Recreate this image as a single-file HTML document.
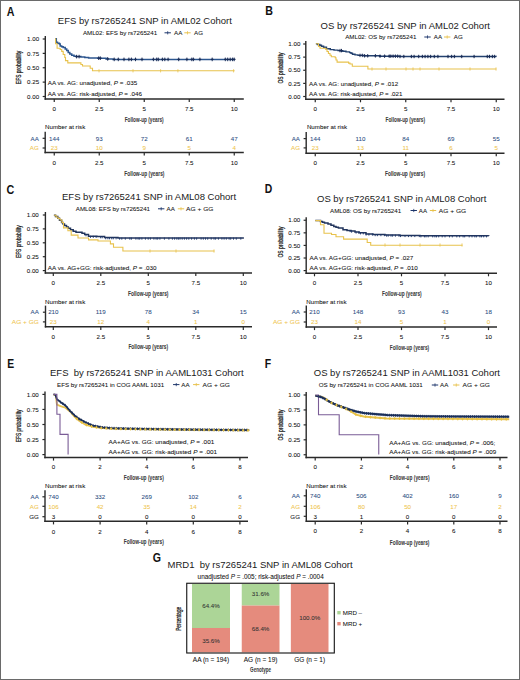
<!DOCTYPE html>
<html><head><meta charset="utf-8"><title>Figure</title>
<style>
html,body{margin:0;padding:0;background:#fff;}
body{width:520px;height:680px;overflow:hidden;}
.wrap{position:relative;width:518px;height:678px;border:1px solid #6a6a6a;}
svg{position:absolute;left:-1px;top:-1px;}
svg text{font-family:'Liberation Sans', sans-serif;}
</style></head><body><div class="wrap">
<svg width="520" height="680" viewBox="0 0 520 680" font-family="Liberation Sans, sans-serif" fill="#111111">
<text x="6.80" y="15.60" font-size="12.2" fill="#111" font-weight="bold" textLength="7.7" lengthAdjust="spacingAndGlyphs">A</text>
<text x="57.80" y="23.60" font-size="9.5" fill="#1a1a1a">EFS by rs7265241 SNP in AML02 Cohort</text>
<text x="82.90" y="35.03" font-size="6.2" stroke="#111111" stroke-width="0.06">AML02: EFS by rs7265241</text>
<line x1="164.50" y1="32.80" x2="170.90" y2="32.80" stroke="#1c356b" stroke-width="1.0"/>
<line x1="167.70" y1="31.20" x2="167.70" y2="34.40" stroke="#1c356b" stroke-width="0.8"/>
<text x="174.00" y="35.03" font-size="6.2" stroke="#111111" stroke-width="0.06">AA</text>
<line x1="184.30" y1="32.80" x2="190.70" y2="32.80" stroke="#e8c24c" stroke-width="1.0"/>
<line x1="187.50" y1="31.20" x2="187.50" y2="34.40" stroke="#e8c24c" stroke-width="0.8"/>
<text x="194.00" y="35.03" font-size="6.2" stroke="#111111" stroke-width="0.06">AG</text>
<text transform="translate(20.96,67.40) rotate(-90)" font-size="6.6" text-anchor="middle" textLength="33.5" lengthAdjust="spacingAndGlyphs" fill="#222" stroke="#222" stroke-width="0.28">EFS probability</text>
<line x1="45.30" y1="36.00" x2="45.30" y2="99.70" stroke="#2a2a2a" stroke-width="1.4"/>
<line x1="44.60" y1="99.00" x2="243.80" y2="99.00" stroke="#2a2a2a" stroke-width="1.4"/>
<line x1="42.70" y1="39.00" x2="45.30" y2="39.00" stroke="#2a2a2a" stroke-width="1.2"/>
<text x="39.10" y="41.23" font-size="6.2" text-anchor="end" stroke="#111111" stroke-width="0.06">1.00</text>
<line x1="42.70" y1="53.38" x2="45.30" y2="53.38" stroke="#2a2a2a" stroke-width="1.2"/>
<text x="39.10" y="55.61" font-size="6.2" text-anchor="end" stroke="#111111" stroke-width="0.06">0.75</text>
<line x1="42.70" y1="67.75" x2="45.30" y2="67.75" stroke="#2a2a2a" stroke-width="1.2"/>
<text x="39.10" y="69.98" font-size="6.2" text-anchor="end" stroke="#111111" stroke-width="0.06">0.50</text>
<line x1="42.70" y1="82.12" x2="45.30" y2="82.12" stroke="#2a2a2a" stroke-width="1.2"/>
<text x="39.10" y="84.36" font-size="6.2" text-anchor="end" stroke="#111111" stroke-width="0.06">0.25</text>
<line x1="42.70" y1="96.50" x2="45.30" y2="96.50" stroke="#2a2a2a" stroke-width="1.2"/>
<text x="39.10" y="98.73" font-size="6.2" text-anchor="end" stroke="#111111" stroke-width="0.06">0.00</text>
<line x1="54.25" y1="99.00" x2="54.25" y2="102.10" stroke="#2a2a2a" stroke-width="1.2"/>
<text x="54.25" y="111.23" font-size="6.2" text-anchor="middle" stroke="#111111" stroke-width="0.06">0</text>
<line x1="99.25" y1="99.00" x2="99.25" y2="102.10" stroke="#2a2a2a" stroke-width="1.2"/>
<text x="99.25" y="111.23" font-size="6.2" text-anchor="middle" stroke="#111111" stroke-width="0.06">2.5</text>
<line x1="144.25" y1="99.00" x2="144.25" y2="102.10" stroke="#2a2a2a" stroke-width="1.2"/>
<text x="144.25" y="111.23" font-size="6.2" text-anchor="middle" stroke="#111111" stroke-width="0.06">5</text>
<line x1="189.25" y1="99.00" x2="189.25" y2="102.10" stroke="#2a2a2a" stroke-width="1.2"/>
<text x="189.25" y="111.23" font-size="6.2" text-anchor="middle" stroke="#111111" stroke-width="0.06">7.5</text>
<line x1="234.25" y1="99.00" x2="234.25" y2="102.10" stroke="#2a2a2a" stroke-width="1.2"/>
<text x="234.25" y="111.23" font-size="6.2" text-anchor="middle" stroke="#111111" stroke-width="0.06">10</text>
<text x="124.75" y="122.02" font-size="7.0" fill="#3a3a3a" stroke="#3a3a3a" stroke-width="0.06" font-weight="bold" textLength="38.9" lengthAdjust="spacingAndGlyphs">Follow-up (years)</text>
<path d="M55.20 38.80H56.30V42.20H57.50V43.30H59.40V43.90H60.20V46.00H61.70V46.80H63.20V47.50H65.20V49.10H66.70V50.60H68.20V52.60H69.80V54.00H71.70V55.20H74.00V56.20H76.30V56.60H80.90V56.90H84.80V57.50H88.60V58.00H98.00V58.20H106.00V58.90H113.00V59.40H234.60V59.40" fill="none" stroke="#2c568f" stroke-width="1.5"/>
<path d="M55.20 38.80H55.60V43.70H57.10V48.30H60.20V49.50H61.70V51.40H63.20V54.50H64.80V57.50H65.50V60.60H67.80V62.90H80.90V64.50H82.50V66.00H90.20V68.30H92.50V70.80H234.60V70.80" fill="none" stroke="#e8c24c" stroke-width="1.1"/>
<line x1="76.60" y1="54.80" x2="76.60" y2="58.40" stroke="#1a2d58" stroke-width="1.0"/>
<line x1="75.30" y1="56.60" x2="77.90" y2="56.60" stroke="#1a2d58" stroke-width="1.2"/>
<line x1="79.10" y1="54.80" x2="79.10" y2="58.40" stroke="#1a2d58" stroke-width="1.0"/>
<line x1="77.80" y1="56.60" x2="80.40" y2="56.60" stroke="#1a2d58" stroke-width="1.2"/>
<line x1="98.70" y1="56.40" x2="98.70" y2="60.00" stroke="#1a2d58" stroke-width="1.0"/>
<line x1="97.40" y1="58.20" x2="100.00" y2="58.20" stroke="#1a2d58" stroke-width="1.2"/>
<line x1="100.30" y1="56.40" x2="100.30" y2="60.00" stroke="#1a2d58" stroke-width="1.0"/>
<line x1="99.00" y1="58.20" x2="101.60" y2="58.20" stroke="#1a2d58" stroke-width="1.2"/>
<line x1="107.70" y1="57.10" x2="107.70" y2="60.70" stroke="#1a2d58" stroke-width="1.0"/>
<line x1="106.40" y1="58.90" x2="109.00" y2="58.90" stroke="#1a2d58" stroke-width="1.2"/>
<line x1="114.20" y1="57.60" x2="114.20" y2="61.20" stroke="#1a2d58" stroke-width="1.0"/>
<line x1="112.90" y1="59.40" x2="115.50" y2="59.40" stroke="#1a2d58" stroke-width="1.2"/>
<line x1="118.30" y1="57.60" x2="118.30" y2="61.20" stroke="#1a2d58" stroke-width="1.0"/>
<line x1="117.00" y1="59.40" x2="119.60" y2="59.40" stroke="#1a2d58" stroke-width="1.2"/>
<line x1="124.00" y1="57.60" x2="124.00" y2="61.20" stroke="#1a2d58" stroke-width="1.0"/>
<line x1="122.70" y1="59.40" x2="125.30" y2="59.40" stroke="#1a2d58" stroke-width="1.2"/>
<line x1="128.90" y1="57.60" x2="128.90" y2="61.20" stroke="#1a2d58" stroke-width="1.0"/>
<line x1="127.60" y1="59.40" x2="130.20" y2="59.40" stroke="#1a2d58" stroke-width="1.2"/>
<line x1="131.40" y1="57.60" x2="131.40" y2="61.20" stroke="#1a2d58" stroke-width="1.0"/>
<line x1="130.10" y1="59.40" x2="132.70" y2="59.40" stroke="#1a2d58" stroke-width="1.2"/>
<line x1="135.50" y1="57.60" x2="135.50" y2="61.20" stroke="#1a2d58" stroke-width="1.0"/>
<line x1="134.20" y1="59.40" x2="136.80" y2="59.40" stroke="#1a2d58" stroke-width="1.2"/>
<line x1="142.00" y1="57.60" x2="142.00" y2="61.20" stroke="#1a2d58" stroke-width="1.0"/>
<line x1="140.70" y1="59.40" x2="143.30" y2="59.40" stroke="#1a2d58" stroke-width="1.2"/>
<line x1="153.40" y1="57.60" x2="153.40" y2="61.20" stroke="#1a2d58" stroke-width="1.0"/>
<line x1="152.10" y1="59.40" x2="154.70" y2="59.40" stroke="#1a2d58" stroke-width="1.2"/>
<line x1="156.70" y1="57.60" x2="156.70" y2="61.20" stroke="#1a2d58" stroke-width="1.0"/>
<line x1="155.40" y1="59.40" x2="158.00" y2="59.40" stroke="#1a2d58" stroke-width="1.2"/>
<line x1="158.30" y1="57.60" x2="158.30" y2="61.20" stroke="#1a2d58" stroke-width="1.0"/>
<line x1="157.00" y1="59.40" x2="159.60" y2="59.40" stroke="#1a2d58" stroke-width="1.2"/>
<line x1="162.40" y1="57.60" x2="162.40" y2="61.20" stroke="#1a2d58" stroke-width="1.0"/>
<line x1="161.10" y1="59.40" x2="163.70" y2="59.40" stroke="#1a2d58" stroke-width="1.2"/>
<line x1="164.80" y1="57.60" x2="164.80" y2="61.20" stroke="#1a2d58" stroke-width="1.0"/>
<line x1="163.50" y1="59.40" x2="166.10" y2="59.40" stroke="#1a2d58" stroke-width="1.2"/>
<line x1="168.10" y1="57.60" x2="168.10" y2="61.20" stroke="#1a2d58" stroke-width="1.0"/>
<line x1="166.80" y1="59.40" x2="169.40" y2="59.40" stroke="#1a2d58" stroke-width="1.2"/>
<line x1="178.70" y1="57.60" x2="178.70" y2="61.20" stroke="#1a2d58" stroke-width="1.0"/>
<line x1="177.40" y1="59.40" x2="180.00" y2="59.40" stroke="#1a2d58" stroke-width="1.2"/>
<line x1="186.90" y1="57.60" x2="186.90" y2="61.20" stroke="#1a2d58" stroke-width="1.0"/>
<line x1="185.60" y1="59.40" x2="188.20" y2="59.40" stroke="#1a2d58" stroke-width="1.2"/>
<line x1="191.80" y1="57.60" x2="191.80" y2="61.20" stroke="#1a2d58" stroke-width="1.0"/>
<line x1="190.50" y1="59.40" x2="193.10" y2="59.40" stroke="#1a2d58" stroke-width="1.2"/>
<line x1="193.40" y1="57.60" x2="193.40" y2="61.20" stroke="#1a2d58" stroke-width="1.0"/>
<line x1="192.10" y1="59.40" x2="194.70" y2="59.40" stroke="#1a2d58" stroke-width="1.2"/>
<line x1="199.90" y1="57.60" x2="199.90" y2="61.20" stroke="#1a2d58" stroke-width="1.0"/>
<line x1="198.60" y1="59.40" x2="201.20" y2="59.40" stroke="#1a2d58" stroke-width="1.2"/>
<line x1="212.20" y1="57.60" x2="212.20" y2="61.20" stroke="#1a2d58" stroke-width="1.0"/>
<line x1="210.90" y1="59.40" x2="213.50" y2="59.40" stroke="#1a2d58" stroke-width="1.2"/>
<line x1="225.30" y1="57.60" x2="225.30" y2="61.20" stroke="#1a2d58" stroke-width="1.0"/>
<line x1="224.00" y1="59.40" x2="226.60" y2="59.40" stroke="#1a2d58" stroke-width="1.2"/>
<line x1="227.70" y1="57.60" x2="227.70" y2="61.20" stroke="#1a2d58" stroke-width="1.0"/>
<line x1="226.40" y1="59.40" x2="229.00" y2="59.40" stroke="#1a2d58" stroke-width="1.2"/>
<line x1="230.20" y1="57.60" x2="230.20" y2="61.20" stroke="#1a2d58" stroke-width="1.0"/>
<line x1="228.90" y1="59.40" x2="231.50" y2="59.40" stroke="#1a2d58" stroke-width="1.2"/>
<line x1="232.60" y1="57.60" x2="232.60" y2="61.20" stroke="#1a2d58" stroke-width="1.0"/>
<line x1="231.30" y1="59.40" x2="233.90" y2="59.40" stroke="#1a2d58" stroke-width="1.2"/>
<line x1="234.20" y1="57.60" x2="234.20" y2="61.20" stroke="#1a2d58" stroke-width="1.0"/>
<line x1="232.90" y1="59.40" x2="235.50" y2="59.40" stroke="#1a2d58" stroke-width="1.2"/>
<line x1="99.00" y1="69.20" x2="99.00" y2="72.40" stroke="#e8c24c" stroke-width="0.8"/>
<line x1="133.00" y1="69.20" x2="133.00" y2="72.40" stroke="#e8c24c" stroke-width="0.8"/>
<line x1="160.60" y1="69.20" x2="160.60" y2="72.40" stroke="#e8c24c" stroke-width="0.8"/>
<line x1="177.90" y1="69.20" x2="177.90" y2="72.40" stroke="#e8c24c" stroke-width="0.8"/>
<line x1="233.60" y1="69.20" x2="233.60" y2="72.40" stroke="#e8c24c" stroke-width="0.8"/>
<text x="47.70" y="84.83" font-size="6.2" stroke="#111111" stroke-width="0.06" textLength="89.60" lengthAdjust="spacingAndGlyphs">AA vs. AG: unadjusted, <tspan font-style="italic">P</tspan> = .035</text>
<text x="47.70" y="96.03" font-size="6.2" stroke="#111111" stroke-width="0.06" textLength="94.25" lengthAdjust="spacingAndGlyphs">AA vs. AG: risk-adjusted, <tspan font-style="italic">P</tspan> = .046</text>
<text x="45.00" y="129.23" font-size="6.2" stroke="#111111" stroke-width="0.06">Number at risk</text>
<line x1="45.20" y1="131.80" x2="45.20" y2="153.20" stroke="#2a2a2a" stroke-width="1.4"/>
<line x1="44.50" y1="152.50" x2="243.80" y2="152.50" stroke="#2a2a2a" stroke-width="1.4"/>
<line x1="42.60" y1="138.30" x2="45.20" y2="138.30" stroke="#2a2a2a" stroke-width="1.2"/>
<text x="38.80" y="140.53" font-size="6.2" text-anchor="end" fill="#2b4d82" stroke="#2b4d82" stroke-width="0.06">AA</text>
<text x="54.25" y="140.53" font-size="6.2" text-anchor="middle" fill="#2b4d82" stroke="#2b4d82" stroke-width="0.06">144</text>
<text x="99.25" y="140.53" font-size="6.2" text-anchor="middle" fill="#2b4d82" stroke="#2b4d82" stroke-width="0.06">93</text>
<text x="144.25" y="140.53" font-size="6.2" text-anchor="middle" fill="#2b4d82" stroke="#2b4d82" stroke-width="0.06">72</text>
<text x="189.25" y="140.53" font-size="6.2" text-anchor="middle" fill="#2b4d82" stroke="#2b4d82" stroke-width="0.06">61</text>
<text x="234.25" y="140.53" font-size="6.2" text-anchor="middle" fill="#2b4d82" stroke="#2b4d82" stroke-width="0.06">47</text>
<line x1="42.60" y1="148.00" x2="45.20" y2="148.00" stroke="#2a2a2a" stroke-width="1.2"/>
<text x="38.80" y="150.23" font-size="6.2" text-anchor="end" fill="#efc54e" stroke="#efc54e" stroke-width="0.06">AG</text>
<text x="54.25" y="150.23" font-size="6.2" text-anchor="middle" fill="#efc54e" stroke="#efc54e" stroke-width="0.06">23</text>
<text x="99.25" y="150.23" font-size="6.2" text-anchor="middle" fill="#efc54e" stroke="#efc54e" stroke-width="0.06">10</text>
<text x="144.25" y="150.23" font-size="6.2" text-anchor="middle" fill="#efc54e" stroke="#efc54e" stroke-width="0.06">9</text>
<text x="189.25" y="150.23" font-size="6.2" text-anchor="middle" fill="#efc54e" stroke="#efc54e" stroke-width="0.06">5</text>
<text x="234.25" y="150.23" font-size="6.2" text-anchor="middle" fill="#efc54e" stroke="#efc54e" stroke-width="0.06">4</text>
<line x1="54.25" y1="152.50" x2="54.25" y2="155.60" stroke="#2a2a2a" stroke-width="1.2"/>
<text x="54.25" y="164.83" font-size="6.2" text-anchor="middle" stroke="#111111" stroke-width="0.06">0</text>
<line x1="99.25" y1="152.50" x2="99.25" y2="155.60" stroke="#2a2a2a" stroke-width="1.2"/>
<text x="99.25" y="164.83" font-size="6.2" text-anchor="middle" stroke="#111111" stroke-width="0.06">2.5</text>
<line x1="144.25" y1="152.50" x2="144.25" y2="155.60" stroke="#2a2a2a" stroke-width="1.2"/>
<text x="144.25" y="164.83" font-size="6.2" text-anchor="middle" stroke="#111111" stroke-width="0.06">5</text>
<line x1="189.25" y1="152.50" x2="189.25" y2="155.60" stroke="#2a2a2a" stroke-width="1.2"/>
<text x="189.25" y="164.83" font-size="6.2" text-anchor="middle" stroke="#111111" stroke-width="0.06">7.5</text>
<line x1="234.25" y1="152.50" x2="234.25" y2="155.60" stroke="#2a2a2a" stroke-width="1.2"/>
<text x="234.25" y="164.83" font-size="6.2" text-anchor="middle" stroke="#111111" stroke-width="0.06">10</text>
<text x="124.25" y="176.32" font-size="7.0" fill="#3a3a3a" stroke="#3a3a3a" stroke-width="0.06" font-weight="bold" textLength="40.2" lengthAdjust="spacingAndGlyphs">Follow-up (years)</text>
<text x="265.20" y="15.00" font-size="12.2" fill="#111" font-weight="bold" textLength="7.7" lengthAdjust="spacingAndGlyphs">B</text>
<text x="320.60" y="28.50" font-size="9.5" fill="#1a1a1a">OS by rs7265241 SNP in AML02 Cohort</text>
<text x="345.20" y="39.23" font-size="6.2" stroke="#111111" stroke-width="0.06">AML02: OS by rs7265241</text>
<line x1="424.30" y1="37.00" x2="430.70" y2="37.00" stroke="#1c356b" stroke-width="1.0"/>
<line x1="427.50" y1="35.40" x2="427.50" y2="38.60" stroke="#1c356b" stroke-width="0.8"/>
<text x="433.75" y="39.23" font-size="6.2" stroke="#111111" stroke-width="0.06">AA</text>
<line x1="444.00" y1="37.00" x2="450.40" y2="37.00" stroke="#e8c24c" stroke-width="1.0"/>
<line x1="447.20" y1="35.40" x2="447.20" y2="38.60" stroke="#e8c24c" stroke-width="0.8"/>
<text x="453.75" y="39.23" font-size="6.2" stroke="#111111" stroke-width="0.06">AG</text>
<text transform="translate(282.76,68.00) rotate(-90)" font-size="6.6" text-anchor="middle" textLength="31.0" lengthAdjust="spacingAndGlyphs" fill="#222" stroke="#222" stroke-width="0.28">OS probability</text>
<line x1="305.80" y1="41.00" x2="305.80" y2="99.90" stroke="#2a2a2a" stroke-width="1.4"/>
<line x1="305.10" y1="99.20" x2="504.50" y2="99.20" stroke="#2a2a2a" stroke-width="1.4"/>
<line x1="303.20" y1="44.00" x2="305.80" y2="44.00" stroke="#2a2a2a" stroke-width="1.2"/>
<text x="300.40" y="46.23" font-size="6.2" text-anchor="end" stroke="#111111" stroke-width="0.06">1.00</text>
<line x1="303.20" y1="57.12" x2="305.80" y2="57.12" stroke="#2a2a2a" stroke-width="1.2"/>
<text x="300.40" y="59.36" font-size="6.2" text-anchor="end" stroke="#111111" stroke-width="0.06">0.75</text>
<line x1="303.20" y1="70.25" x2="305.80" y2="70.25" stroke="#2a2a2a" stroke-width="1.2"/>
<text x="300.40" y="72.48" font-size="6.2" text-anchor="end" stroke="#111111" stroke-width="0.06">0.50</text>
<line x1="303.20" y1="83.38" x2="305.80" y2="83.38" stroke="#2a2a2a" stroke-width="1.2"/>
<text x="300.40" y="85.61" font-size="6.2" text-anchor="end" stroke="#111111" stroke-width="0.06">0.25</text>
<line x1="303.20" y1="96.50" x2="305.80" y2="96.50" stroke="#2a2a2a" stroke-width="1.2"/>
<text x="300.40" y="98.73" font-size="6.2" text-anchor="end" stroke="#111111" stroke-width="0.06">0.00</text>
<line x1="315.25" y1="99.20" x2="315.25" y2="102.30" stroke="#2a2a2a" stroke-width="1.2"/>
<text x="315.25" y="110.93" font-size="6.2" text-anchor="middle" stroke="#111111" stroke-width="0.06">0</text>
<line x1="360.50" y1="99.20" x2="360.50" y2="102.30" stroke="#2a2a2a" stroke-width="1.2"/>
<text x="360.50" y="110.93" font-size="6.2" text-anchor="middle" stroke="#111111" stroke-width="0.06">2.5</text>
<line x1="405.75" y1="99.20" x2="405.75" y2="102.30" stroke="#2a2a2a" stroke-width="1.2"/>
<text x="405.75" y="110.93" font-size="6.2" text-anchor="middle" stroke="#111111" stroke-width="0.06">5</text>
<line x1="451.00" y1="99.20" x2="451.00" y2="102.30" stroke="#2a2a2a" stroke-width="1.2"/>
<text x="451.00" y="110.93" font-size="6.2" text-anchor="middle" stroke="#111111" stroke-width="0.06">7.5</text>
<line x1="496.25" y1="99.20" x2="496.25" y2="102.30" stroke="#2a2a2a" stroke-width="1.2"/>
<text x="496.25" y="110.93" font-size="6.2" text-anchor="middle" stroke="#111111" stroke-width="0.06">10</text>
<text x="385.50" y="122.02" font-size="7.0" fill="#3a3a3a" stroke="#3a3a3a" stroke-width="0.06" font-weight="bold" textLength="39.5" lengthAdjust="spacingAndGlyphs">Follow-up (years)</text>
<path d="M315.90 43.80H317.50V44.50H319.80V45.30H321.50V46.20H323.60V47.20H326.50V48.70H330.30V49.60H334.00V50.10H338.00V50.60H342.80V51.30H346.00V51.90H349.60V52.60H351.00V53.30H352.50V54.30H355.00V54.90H358.00V55.40H364.00V55.80H380.00V56.20H400.00V56.50H496.30V56.60" fill="none" stroke="#23416f" stroke-width="1.4"/>
<path d="M315.90 43.80H318.50V46.50H320.00V48.20H325.50V49.10H327.00V51.50H328.40V53.50H330.00V55.30H331.30V56.80H335.20V57.80H336.00V60.00H337.10V62.10H348.60V63.10H350.00V64.00H352.30V66.30H367.90V69.00H496.30V69.00" fill="none" stroke="#e8c24c" stroke-width="1.1"/>
<line x1="340.00" y1="48.90" x2="340.00" y2="52.30" stroke="#1a2d58" stroke-width="1.0"/>
<line x1="338.80" y1="50.60" x2="341.20" y2="50.60" stroke="#1a2d58" stroke-width="1.2"/>
<line x1="341.50" y1="48.90" x2="341.50" y2="52.30" stroke="#1a2d58" stroke-width="1.0"/>
<line x1="340.30" y1="50.60" x2="342.70" y2="50.60" stroke="#1a2d58" stroke-width="1.2"/>
<line x1="360.00" y1="53.70" x2="360.00" y2="57.10" stroke="#1a2d58" stroke-width="1.0"/>
<line x1="358.80" y1="55.40" x2="361.20" y2="55.40" stroke="#1a2d58" stroke-width="1.2"/>
<line x1="362.30" y1="53.70" x2="362.30" y2="57.10" stroke="#1a2d58" stroke-width="1.0"/>
<line x1="361.10" y1="55.40" x2="363.50" y2="55.40" stroke="#1a2d58" stroke-width="1.2"/>
<line x1="364.60" y1="54.10" x2="364.60" y2="57.50" stroke="#1a2d58" stroke-width="1.0"/>
<line x1="363.40" y1="55.80" x2="365.80" y2="55.80" stroke="#1a2d58" stroke-width="1.2"/>
<line x1="367.70" y1="54.10" x2="367.70" y2="57.50" stroke="#1a2d58" stroke-width="1.0"/>
<line x1="366.50" y1="55.80" x2="368.90" y2="55.80" stroke="#1a2d58" stroke-width="1.2"/>
<line x1="375.40" y1="54.10" x2="375.40" y2="57.50" stroke="#1a2d58" stroke-width="1.0"/>
<line x1="374.20" y1="55.80" x2="376.60" y2="55.80" stroke="#1a2d58" stroke-width="1.2"/>
<line x1="380.00" y1="54.50" x2="380.00" y2="57.90" stroke="#1a2d58" stroke-width="1.0"/>
<line x1="378.80" y1="56.20" x2="381.20" y2="56.20" stroke="#1a2d58" stroke-width="1.2"/>
<line x1="384.60" y1="54.50" x2="384.60" y2="57.90" stroke="#1a2d58" stroke-width="1.0"/>
<line x1="383.40" y1="56.20" x2="385.80" y2="56.20" stroke="#1a2d58" stroke-width="1.2"/>
<line x1="389.20" y1="54.50" x2="389.20" y2="57.90" stroke="#1a2d58" stroke-width="1.0"/>
<line x1="388.00" y1="56.20" x2="390.40" y2="56.20" stroke="#1a2d58" stroke-width="1.2"/>
<line x1="390.80" y1="54.50" x2="390.80" y2="57.90" stroke="#1a2d58" stroke-width="1.0"/>
<line x1="389.60" y1="56.20" x2="392.00" y2="56.20" stroke="#1a2d58" stroke-width="1.2"/>
<line x1="393.10" y1="54.50" x2="393.10" y2="57.90" stroke="#1a2d58" stroke-width="1.0"/>
<line x1="391.90" y1="56.20" x2="394.30" y2="56.20" stroke="#1a2d58" stroke-width="1.2"/>
<line x1="395.40" y1="54.50" x2="395.40" y2="57.90" stroke="#1a2d58" stroke-width="1.0"/>
<line x1="394.20" y1="56.20" x2="396.60" y2="56.20" stroke="#1a2d58" stroke-width="1.2"/>
<line x1="397.70" y1="54.50" x2="397.70" y2="57.90" stroke="#1a2d58" stroke-width="1.0"/>
<line x1="396.50" y1="56.20" x2="398.90" y2="56.20" stroke="#1a2d58" stroke-width="1.2"/>
<line x1="400.00" y1="54.80" x2="400.00" y2="58.20" stroke="#1a2d58" stroke-width="1.0"/>
<line x1="398.80" y1="56.50" x2="401.20" y2="56.50" stroke="#1a2d58" stroke-width="1.2"/>
<line x1="403.80" y1="54.80" x2="403.80" y2="58.20" stroke="#1a2d58" stroke-width="1.0"/>
<line x1="402.60" y1="56.50" x2="405.00" y2="56.50" stroke="#1a2d58" stroke-width="1.2"/>
<line x1="411.40" y1="54.80" x2="411.40" y2="58.20" stroke="#1a2d58" stroke-width="1.0"/>
<line x1="410.20" y1="56.50" x2="412.60" y2="56.50" stroke="#1a2d58" stroke-width="1.2"/>
<line x1="414.10" y1="54.80" x2="414.10" y2="58.20" stroke="#1a2d58" stroke-width="1.0"/>
<line x1="412.90" y1="56.50" x2="415.30" y2="56.50" stroke="#1a2d58" stroke-width="1.2"/>
<line x1="418.70" y1="54.80" x2="418.70" y2="58.20" stroke="#1a2d58" stroke-width="1.0"/>
<line x1="417.50" y1="56.50" x2="419.90" y2="56.50" stroke="#1a2d58" stroke-width="1.2"/>
<line x1="422.40" y1="54.80" x2="422.40" y2="58.20" stroke="#1a2d58" stroke-width="1.0"/>
<line x1="421.20" y1="56.50" x2="423.60" y2="56.50" stroke="#1a2d58" stroke-width="1.2"/>
<line x1="425.10" y1="54.80" x2="425.10" y2="58.20" stroke="#1a2d58" stroke-width="1.0"/>
<line x1="423.90" y1="56.50" x2="426.30" y2="56.50" stroke="#1a2d58" stroke-width="1.2"/>
<line x1="427.90" y1="54.80" x2="427.90" y2="58.20" stroke="#1a2d58" stroke-width="1.0"/>
<line x1="426.70" y1="56.50" x2="429.10" y2="56.50" stroke="#1a2d58" stroke-width="1.2"/>
<line x1="430.60" y1="54.80" x2="430.60" y2="58.20" stroke="#1a2d58" stroke-width="1.0"/>
<line x1="429.40" y1="56.50" x2="431.80" y2="56.50" stroke="#1a2d58" stroke-width="1.2"/>
<line x1="434.30" y1="54.80" x2="434.30" y2="58.20" stroke="#1a2d58" stroke-width="1.0"/>
<line x1="433.10" y1="56.50" x2="435.50" y2="56.50" stroke="#1a2d58" stroke-width="1.2"/>
<line x1="437.90" y1="54.80" x2="437.90" y2="58.20" stroke="#1a2d58" stroke-width="1.0"/>
<line x1="436.70" y1="56.50" x2="439.10" y2="56.50" stroke="#1a2d58" stroke-width="1.2"/>
<line x1="448.00" y1="54.80" x2="448.00" y2="58.20" stroke="#1a2d58" stroke-width="1.0"/>
<line x1="446.80" y1="56.50" x2="449.20" y2="56.50" stroke="#1a2d58" stroke-width="1.2"/>
<line x1="451.60" y1="54.80" x2="451.60" y2="58.20" stroke="#1a2d58" stroke-width="1.0"/>
<line x1="450.40" y1="56.50" x2="452.80" y2="56.50" stroke="#1a2d58" stroke-width="1.2"/>
<line x1="454.40" y1="54.80" x2="454.40" y2="58.20" stroke="#1a2d58" stroke-width="1.0"/>
<line x1="453.20" y1="56.50" x2="455.60" y2="56.50" stroke="#1a2d58" stroke-width="1.2"/>
<line x1="461.70" y1="54.80" x2="461.70" y2="58.20" stroke="#1a2d58" stroke-width="1.0"/>
<line x1="460.50" y1="56.50" x2="462.90" y2="56.50" stroke="#1a2d58" stroke-width="1.2"/>
<line x1="474.10" y1="54.80" x2="474.10" y2="58.20" stroke="#1a2d58" stroke-width="1.0"/>
<line x1="472.90" y1="56.50" x2="475.30" y2="56.50" stroke="#1a2d58" stroke-width="1.2"/>
<line x1="487.30" y1="54.80" x2="487.30" y2="58.20" stroke="#1a2d58" stroke-width="1.0"/>
<line x1="486.10" y1="56.50" x2="488.50" y2="56.50" stroke="#1a2d58" stroke-width="1.2"/>
<line x1="489.50" y1="54.80" x2="489.50" y2="58.20" stroke="#1a2d58" stroke-width="1.0"/>
<line x1="488.30" y1="56.50" x2="490.70" y2="56.50" stroke="#1a2d58" stroke-width="1.2"/>
<line x1="492.40" y1="54.80" x2="492.40" y2="58.20" stroke="#1a2d58" stroke-width="1.0"/>
<line x1="491.20" y1="56.50" x2="493.60" y2="56.50" stroke="#1a2d58" stroke-width="1.2"/>
<line x1="494.60" y1="54.80" x2="494.60" y2="58.20" stroke="#1a2d58" stroke-width="1.0"/>
<line x1="493.40" y1="56.50" x2="495.80" y2="56.50" stroke="#1a2d58" stroke-width="1.2"/>
<line x1="372.00" y1="67.40" x2="372.00" y2="70.60" stroke="#e8c24c" stroke-width="0.8"/>
<line x1="386.00" y1="67.40" x2="386.00" y2="70.60" stroke="#e8c24c" stroke-width="0.8"/>
<line x1="406.00" y1="67.40" x2="406.00" y2="70.60" stroke="#e8c24c" stroke-width="0.8"/>
<line x1="413.00" y1="67.40" x2="413.00" y2="70.60" stroke="#e8c24c" stroke-width="0.8"/>
<line x1="420.00" y1="67.40" x2="420.00" y2="70.60" stroke="#e8c24c" stroke-width="0.8"/>
<line x1="439.00" y1="67.40" x2="439.00" y2="70.60" stroke="#e8c24c" stroke-width="0.8"/>
<line x1="470.00" y1="67.40" x2="470.00" y2="70.60" stroke="#e8c24c" stroke-width="0.8"/>
<line x1="496.00" y1="67.40" x2="496.00" y2="70.60" stroke="#e8c24c" stroke-width="0.8"/>
<text x="309.10" y="85.83" font-size="6.2" stroke="#111111" stroke-width="0.06" textLength="89.10" lengthAdjust="spacingAndGlyphs">AA vs. AG: unadjusted, <tspan font-style="italic">P</tspan> = .012</text>
<text x="309.10" y="96.03" font-size="6.2" stroke="#111111" stroke-width="0.06" textLength="93.40" lengthAdjust="spacingAndGlyphs">AA vs. AG: risk-adjusted, <tspan font-style="italic">P</tspan> = .021</text>
<text x="306.90" y="129.13" font-size="6.2" stroke="#111111" stroke-width="0.06">Number at risk</text>
<line x1="306.20" y1="131.90" x2="306.20" y2="153.90" stroke="#2a2a2a" stroke-width="1.4"/>
<line x1="305.50" y1="153.20" x2="504.50" y2="153.20" stroke="#2a2a2a" stroke-width="1.4"/>
<line x1="303.60" y1="138.60" x2="306.20" y2="138.60" stroke="#2a2a2a" stroke-width="1.2"/>
<text x="300.00" y="140.83" font-size="6.2" text-anchor="end" fill="#2b4d82" stroke="#2b4d82" stroke-width="0.06">AA</text>
<text x="315.25" y="140.83" font-size="6.2" text-anchor="middle" fill="#2b4d82" stroke="#2b4d82" stroke-width="0.06">144</text>
<text x="360.50" y="140.83" font-size="6.2" text-anchor="middle" fill="#2b4d82" stroke="#2b4d82" stroke-width="0.06">110</text>
<text x="405.75" y="140.83" font-size="6.2" text-anchor="middle" fill="#2b4d82" stroke="#2b4d82" stroke-width="0.06">84</text>
<text x="451.00" y="140.83" font-size="6.2" text-anchor="middle" fill="#2b4d82" stroke="#2b4d82" stroke-width="0.06">69</text>
<text x="496.25" y="140.83" font-size="6.2" text-anchor="middle" fill="#2b4d82" stroke="#2b4d82" stroke-width="0.06">55</text>
<line x1="303.60" y1="147.90" x2="306.20" y2="147.90" stroke="#2a2a2a" stroke-width="1.2"/>
<text x="300.00" y="150.13" font-size="6.2" text-anchor="end" fill="#efc54e" stroke="#efc54e" stroke-width="0.06">AG</text>
<text x="315.25" y="150.13" font-size="6.2" text-anchor="middle" fill="#efc54e" stroke="#efc54e" stroke-width="0.06">23</text>
<text x="360.50" y="150.13" font-size="6.2" text-anchor="middle" fill="#efc54e" stroke="#efc54e" stroke-width="0.06">13</text>
<text x="405.75" y="150.13" font-size="6.2" text-anchor="middle" fill="#efc54e" stroke="#efc54e" stroke-width="0.06">11</text>
<text x="451.00" y="150.13" font-size="6.2" text-anchor="middle" fill="#efc54e" stroke="#efc54e" stroke-width="0.06">6</text>
<text x="496.25" y="150.13" font-size="6.2" text-anchor="middle" fill="#efc54e" stroke="#efc54e" stroke-width="0.06">5</text>
<line x1="315.25" y1="153.20" x2="315.25" y2="156.30" stroke="#2a2a2a" stroke-width="1.2"/>
<text x="315.25" y="165.23" font-size="6.2" text-anchor="middle" stroke="#111111" stroke-width="0.06">0</text>
<line x1="360.50" y1="153.20" x2="360.50" y2="156.30" stroke="#2a2a2a" stroke-width="1.2"/>
<text x="360.50" y="165.23" font-size="6.2" text-anchor="middle" stroke="#111111" stroke-width="0.06">2.5</text>
<line x1="405.75" y1="153.20" x2="405.75" y2="156.30" stroke="#2a2a2a" stroke-width="1.2"/>
<text x="405.75" y="165.23" font-size="6.2" text-anchor="middle" stroke="#111111" stroke-width="0.06">5</text>
<line x1="451.00" y1="153.20" x2="451.00" y2="156.30" stroke="#2a2a2a" stroke-width="1.2"/>
<text x="451.00" y="165.23" font-size="6.2" text-anchor="middle" stroke="#111111" stroke-width="0.06">7.5</text>
<line x1="496.25" y1="153.20" x2="496.25" y2="156.30" stroke="#2a2a2a" stroke-width="1.2"/>
<text x="496.25" y="165.23" font-size="6.2" text-anchor="middle" stroke="#111111" stroke-width="0.06">10</text>
<text x="385.00" y="175.72" font-size="7.0" fill="#3a3a3a" stroke="#3a3a3a" stroke-width="0.06" font-weight="bold" textLength="40.0" lengthAdjust="spacingAndGlyphs">Follow-up (years)</text>
<text x="6.50" y="193.80" font-size="12.2" fill="#111" font-weight="bold" textLength="7.75" lengthAdjust="spacingAndGlyphs">C</text>
<text x="62.00" y="200.00" font-size="9.5" fill="#1a1a1a">EFS by rs7265241 SNP in AML08 Cohort</text>
<text x="75.75" y="211.03" font-size="6.2" stroke="#111111" stroke-width="0.06">AML08: EFS by rs7265241</text>
<line x1="158.00" y1="208.80" x2="164.40" y2="208.80" stroke="#1c356b" stroke-width="1.0"/>
<line x1="161.20" y1="207.20" x2="161.20" y2="210.40" stroke="#1c356b" stroke-width="0.8"/>
<text x="166.50" y="211.03" font-size="6.2" stroke="#111111" stroke-width="0.06">AA</text>
<line x1="177.80" y1="208.80" x2="184.20" y2="208.80" stroke="#e8c24c" stroke-width="1.0"/>
<line x1="181.00" y1="207.20" x2="181.00" y2="210.40" stroke="#e8c24c" stroke-width="0.8"/>
<text x="186.00" y="211.03" font-size="6.2" stroke="#111111" stroke-width="0.06" textLength="27.5" lengthAdjust="spacingAndGlyphs">AG + GG</text>
<text transform="translate(20.96,241.70) rotate(-90)" font-size="6.6" text-anchor="middle" textLength="32.8" lengthAdjust="spacingAndGlyphs" fill="#222" stroke="#222" stroke-width="0.28">EFS probability</text>
<line x1="45.40" y1="212.00" x2="45.40" y2="273.70" stroke="#2a2a2a" stroke-width="1.4"/>
<line x1="44.70" y1="273.00" x2="252.00" y2="273.00" stroke="#2a2a2a" stroke-width="1.4"/>
<line x1="42.80" y1="215.00" x2="45.40" y2="215.00" stroke="#2a2a2a" stroke-width="1.2"/>
<text x="38.80" y="217.23" font-size="6.2" text-anchor="end" stroke="#111111" stroke-width="0.06">1.00</text>
<line x1="42.80" y1="228.90" x2="45.40" y2="228.90" stroke="#2a2a2a" stroke-width="1.2"/>
<text x="38.80" y="231.13" font-size="6.2" text-anchor="end" stroke="#111111" stroke-width="0.06">0.75</text>
<line x1="42.80" y1="242.80" x2="45.40" y2="242.80" stroke="#2a2a2a" stroke-width="1.2"/>
<text x="38.80" y="245.03" font-size="6.2" text-anchor="end" stroke="#111111" stroke-width="0.06">0.50</text>
<line x1="42.80" y1="256.70" x2="45.40" y2="256.70" stroke="#2a2a2a" stroke-width="1.2"/>
<text x="38.80" y="258.93" font-size="6.2" text-anchor="end" stroke="#111111" stroke-width="0.06">0.25</text>
<line x1="42.80" y1="270.60" x2="45.40" y2="270.60" stroke="#2a2a2a" stroke-width="1.2"/>
<text x="38.80" y="272.83" font-size="6.2" text-anchor="end" stroke="#111111" stroke-width="0.06">0.00</text>
<line x1="53.30" y1="273.00" x2="53.30" y2="276.10" stroke="#2a2a2a" stroke-width="1.2"/>
<text x="53.30" y="285.03" font-size="6.2" text-anchor="middle" stroke="#111111" stroke-width="0.06">0</text>
<line x1="100.80" y1="273.00" x2="100.80" y2="276.10" stroke="#2a2a2a" stroke-width="1.2"/>
<text x="100.80" y="285.03" font-size="6.2" text-anchor="middle" stroke="#111111" stroke-width="0.06">2.5</text>
<line x1="148.30" y1="273.00" x2="148.30" y2="276.10" stroke="#2a2a2a" stroke-width="1.2"/>
<text x="148.30" y="285.03" font-size="6.2" text-anchor="middle" stroke="#111111" stroke-width="0.06">5</text>
<line x1="195.80" y1="273.00" x2="195.80" y2="276.10" stroke="#2a2a2a" stroke-width="1.2"/>
<text x="195.80" y="285.03" font-size="6.2" text-anchor="middle" stroke="#111111" stroke-width="0.06">7.5</text>
<line x1="243.30" y1="273.00" x2="243.30" y2="276.10" stroke="#2a2a2a" stroke-width="1.2"/>
<text x="243.30" y="285.03" font-size="6.2" text-anchor="middle" stroke="#111111" stroke-width="0.06">10</text>
<text x="128.00" y="296.22" font-size="7.0" fill="#3a3a3a" stroke="#3a3a3a" stroke-width="0.06" font-weight="bold" textLength="40.5" lengthAdjust="spacingAndGlyphs">Follow-up (years)</text>
<path d="M53.90 215.20H55.50V216.50H57.80V218.30H59.50V220.30H61.60V222.60H63.00V224.00H64.50V225.50H66.50V227.00H68.30V228.30H70.50V229.80H73.20V231.20H76.00V232.20H82.00V233.20H84.70V234.60H88.50V236.20H97.00V236.60H104.60V237.60H118.00V238.00H243.90V238.00" fill="none" stroke="#22355c" stroke-width="1.5"/>
<path d="M53.90 215.20H56.00V217.00H58.00V218.50H60.00V220.00H62.00V222.50H63.50V227.90H67.90V230.80H71.20V235.10H78.00V238.00H88.50V239.90H98.00V241.00H110.40V243.90H113.50V247.20H122.90V251.00H214.40V251.00" fill="none" stroke="#e8c24c" stroke-width="1.1"/>
<line x1="86.00" y1="234.20" x2="86.00" y2="236.30" stroke="#1c356b" stroke-width="0.9"/>
<line x1="90.50" y1="235.80" x2="90.50" y2="237.90" stroke="#1c356b" stroke-width="0.9"/>
<line x1="93.30" y1="235.80" x2="93.30" y2="237.90" stroke="#1c356b" stroke-width="0.9"/>
<line x1="96.10" y1="235.80" x2="96.10" y2="237.90" stroke="#1c356b" stroke-width="0.9"/>
<line x1="100.60" y1="236.20" x2="100.60" y2="238.30" stroke="#1c356b" stroke-width="0.9"/>
<line x1="102.20" y1="236.20" x2="102.20" y2="238.30" stroke="#1c356b" stroke-width="0.9"/>
<line x1="105.70" y1="237.20" x2="105.70" y2="239.30" stroke="#1c356b" stroke-width="0.9"/>
<line x1="107.90" y1="237.20" x2="107.90" y2="239.30" stroke="#1c356b" stroke-width="0.9"/>
<line x1="109.50" y1="237.20" x2="109.50" y2="239.30" stroke="#1c356b" stroke-width="0.9"/>
<line x1="111.70" y1="237.20" x2="111.70" y2="239.30" stroke="#1c356b" stroke-width="0.9"/>
<line x1="113.30" y1="237.20" x2="113.30" y2="239.30" stroke="#1c356b" stroke-width="0.9"/>
<line x1="116.10" y1="237.20" x2="116.10" y2="239.30" stroke="#1c356b" stroke-width="0.9"/>
<line x1="119.60" y1="237.60" x2="119.60" y2="239.70" stroke="#1c356b" stroke-width="0.9"/>
<line x1="121.80" y1="237.60" x2="121.80" y2="239.70" stroke="#1c356b" stroke-width="0.9"/>
<line x1="125.30" y1="237.60" x2="125.30" y2="239.70" stroke="#1c356b" stroke-width="0.9"/>
<line x1="129.80" y1="237.60" x2="129.80" y2="239.70" stroke="#1c356b" stroke-width="0.9"/>
<line x1="131.40" y1="237.60" x2="131.40" y2="239.70" stroke="#1c356b" stroke-width="0.9"/>
<line x1="135.90" y1="237.60" x2="135.90" y2="239.70" stroke="#1c356b" stroke-width="0.9"/>
<line x1="138.10" y1="237.60" x2="138.10" y2="239.70" stroke="#1c356b" stroke-width="0.9"/>
<line x1="139.70" y1="237.60" x2="139.70" y2="239.70" stroke="#1c356b" stroke-width="0.9"/>
<line x1="141.90" y1="237.60" x2="141.90" y2="239.70" stroke="#1c356b" stroke-width="0.9"/>
<line x1="145.40" y1="237.60" x2="145.40" y2="239.70" stroke="#1c356b" stroke-width="0.9"/>
<line x1="148.20" y1="237.60" x2="148.20" y2="239.70" stroke="#1c356b" stroke-width="0.9"/>
<line x1="150.40" y1="237.60" x2="150.40" y2="239.70" stroke="#1c356b" stroke-width="0.9"/>
<line x1="153.90" y1="237.60" x2="153.90" y2="239.70" stroke="#1c356b" stroke-width="0.9"/>
<line x1="156.10" y1="237.60" x2="156.10" y2="239.70" stroke="#1c356b" stroke-width="0.9"/>
<line x1="157.70" y1="237.60" x2="157.70" y2="239.70" stroke="#1c356b" stroke-width="0.9"/>
<line x1="159.90" y1="237.60" x2="159.90" y2="239.70" stroke="#1c356b" stroke-width="0.9"/>
<line x1="164.40" y1="237.60" x2="164.40" y2="239.70" stroke="#1c356b" stroke-width="0.9"/>
<line x1="168.90" y1="237.60" x2="168.90" y2="239.70" stroke="#1c356b" stroke-width="0.9"/>
<line x1="172.40" y1="237.60" x2="172.40" y2="239.70" stroke="#1c356b" stroke-width="0.9"/>
<line x1="174.60" y1="237.60" x2="174.60" y2="239.70" stroke="#1c356b" stroke-width="0.9"/>
<line x1="176.80" y1="237.60" x2="176.80" y2="239.70" stroke="#1c356b" stroke-width="0.9"/>
<line x1="178.40" y1="237.60" x2="178.40" y2="239.70" stroke="#1c356b" stroke-width="0.9"/>
<line x1="180.00" y1="237.60" x2="180.00" y2="239.70" stroke="#1c356b" stroke-width="0.9"/>
<line x1="182.20" y1="237.60" x2="182.20" y2="239.70" stroke="#1c356b" stroke-width="0.9"/>
<line x1="184.40" y1="237.60" x2="184.40" y2="239.70" stroke="#1c356b" stroke-width="0.9"/>
<line x1="186.60" y1="237.60" x2="186.60" y2="239.70" stroke="#1c356b" stroke-width="0.9"/>
<line x1="188.80" y1="237.60" x2="188.80" y2="239.70" stroke="#1c356b" stroke-width="0.9"/>
<line x1="191.60" y1="237.60" x2="191.60" y2="239.70" stroke="#1c356b" stroke-width="0.9"/>
<line x1="194.40" y1="237.60" x2="194.40" y2="239.70" stroke="#1c356b" stroke-width="0.9"/>
<line x1="196.60" y1="237.60" x2="196.60" y2="239.70" stroke="#1c356b" stroke-width="0.9"/>
<line x1="201.10" y1="237.60" x2="201.10" y2="239.70" stroke="#1c356b" stroke-width="0.9"/>
<line x1="203.30" y1="237.60" x2="203.30" y2="239.70" stroke="#1c356b" stroke-width="0.9"/>
<line x1="205.50" y1="237.60" x2="205.50" y2="239.70" stroke="#1c356b" stroke-width="0.9"/>
<line x1="207.70" y1="237.60" x2="207.70" y2="239.70" stroke="#1c356b" stroke-width="0.9"/>
<line x1="211.20" y1="237.60" x2="211.20" y2="239.70" stroke="#1c356b" stroke-width="0.9"/>
<line x1="214.00" y1="237.60" x2="214.00" y2="239.70" stroke="#1c356b" stroke-width="0.9"/>
<line x1="215.60" y1="237.60" x2="215.60" y2="239.70" stroke="#1c356b" stroke-width="0.9"/>
<line x1="218.40" y1="237.60" x2="218.40" y2="239.70" stroke="#1c356b" stroke-width="0.9"/>
<line x1="221.90" y1="237.60" x2="221.90" y2="239.70" stroke="#1c356b" stroke-width="0.9"/>
<line x1="224.10" y1="237.60" x2="224.10" y2="239.70" stroke="#1c356b" stroke-width="0.9"/>
<line x1="226.30" y1="237.60" x2="226.30" y2="239.70" stroke="#1c356b" stroke-width="0.9"/>
<line x1="229.10" y1="237.60" x2="229.10" y2="239.70" stroke="#1c356b" stroke-width="0.9"/>
<line x1="230.70" y1="237.60" x2="230.70" y2="239.70" stroke="#1c356b" stroke-width="0.9"/>
<line x1="233.50" y1="237.60" x2="233.50" y2="239.70" stroke="#1c356b" stroke-width="0.9"/>
<line x1="236.30" y1="237.60" x2="236.30" y2="239.70" stroke="#1c356b" stroke-width="0.9"/>
<line x1="240.80" y1="237.60" x2="240.80" y2="239.70" stroke="#1c356b" stroke-width="0.9"/>
<line x1="150.00" y1="249.40" x2="150.00" y2="252.60" stroke="#e8c24c" stroke-width="0.8"/>
<line x1="176.00" y1="249.40" x2="176.00" y2="252.60" stroke="#e8c24c" stroke-width="0.8"/>
<line x1="214.00" y1="249.40" x2="214.00" y2="252.60" stroke="#e8c24c" stroke-width="0.8"/>
<text x="47.80" y="270.33" font-size="6.2" stroke="#111111" stroke-width="0.06" textLength="108.70" lengthAdjust="spacingAndGlyphs">AA vs. AG+GG: risk-adjusted, <tspan font-style="italic">P</tspan> = .030</text>
<text x="45.00" y="303.53" font-size="6.2" stroke="#111111" stroke-width="0.06">Number at risk</text>
<line x1="45.50" y1="305.60" x2="45.50" y2="327.50" stroke="#2a2a2a" stroke-width="1.4"/>
<line x1="44.80" y1="326.80" x2="252.00" y2="326.80" stroke="#2a2a2a" stroke-width="1.4"/>
<line x1="42.90" y1="312.20" x2="45.50" y2="312.20" stroke="#2a2a2a" stroke-width="1.2"/>
<text x="38.80" y="314.43" font-size="6.2" text-anchor="end" fill="#2b4d82" stroke="#2b4d82" stroke-width="0.06">AA</text>
<text x="53.30" y="314.43" font-size="6.2" text-anchor="middle" fill="#2b4d82" stroke="#2b4d82" stroke-width="0.06">210</text>
<text x="100.80" y="314.43" font-size="6.2" text-anchor="middle" fill="#2b4d82" stroke="#2b4d82" stroke-width="0.06">119</text>
<text x="148.30" y="314.43" font-size="6.2" text-anchor="middle" fill="#2b4d82" stroke="#2b4d82" stroke-width="0.06">78</text>
<text x="195.80" y="314.43" font-size="6.2" text-anchor="middle" fill="#2b4d82" stroke="#2b4d82" stroke-width="0.06">34</text>
<text x="243.30" y="314.43" font-size="6.2" text-anchor="middle" fill="#2b4d82" stroke="#2b4d82" stroke-width="0.06">15</text>
<line x1="42.90" y1="321.90" x2="45.50" y2="321.90" stroke="#2a2a2a" stroke-width="1.2"/>
<text x="38.80" y="324.13" font-size="6.2" text-anchor="end" fill="#efc54e" stroke="#efc54e" stroke-width="0.06" textLength="27" lengthAdjust="spacingAndGlyphs">AG + GG</text>
<text x="53.30" y="324.13" font-size="6.2" text-anchor="middle" fill="#efc54e" stroke="#efc54e" stroke-width="0.06">23</text>
<text x="100.80" y="324.13" font-size="6.2" text-anchor="middle" fill="#efc54e" stroke="#efc54e" stroke-width="0.06">12</text>
<text x="148.30" y="324.13" font-size="6.2" text-anchor="middle" fill="#efc54e" stroke="#efc54e" stroke-width="0.06">4</text>
<text x="195.80" y="324.13" font-size="6.2" text-anchor="middle" fill="#efc54e" stroke="#efc54e" stroke-width="0.06">1</text>
<text x="243.30" y="324.13" font-size="6.2" text-anchor="middle" fill="#efc54e" stroke="#efc54e" stroke-width="0.06">0</text>
<line x1="53.30" y1="326.80" x2="53.30" y2="329.90" stroke="#2a2a2a" stroke-width="1.2"/>
<text x="53.30" y="338.53" font-size="6.2" text-anchor="middle" stroke="#111111" stroke-width="0.06">0</text>
<line x1="100.80" y1="326.80" x2="100.80" y2="329.90" stroke="#2a2a2a" stroke-width="1.2"/>
<text x="100.80" y="338.53" font-size="6.2" text-anchor="middle" stroke="#111111" stroke-width="0.06">2.5</text>
<line x1="148.30" y1="326.80" x2="148.30" y2="329.90" stroke="#2a2a2a" stroke-width="1.2"/>
<text x="148.30" y="338.53" font-size="6.2" text-anchor="middle" stroke="#111111" stroke-width="0.06">5</text>
<line x1="195.80" y1="326.80" x2="195.80" y2="329.90" stroke="#2a2a2a" stroke-width="1.2"/>
<text x="195.80" y="338.53" font-size="6.2" text-anchor="middle" stroke="#111111" stroke-width="0.06">7.5</text>
<line x1="243.30" y1="326.80" x2="243.30" y2="329.90" stroke="#2a2a2a" stroke-width="1.2"/>
<text x="243.30" y="338.53" font-size="6.2" text-anchor="middle" stroke="#111111" stroke-width="0.06">10</text>
<text x="128.40" y="349.12" font-size="7.0" fill="#3a3a3a" stroke="#3a3a3a" stroke-width="0.06" font-weight="bold" textLength="39.6" lengthAdjust="spacingAndGlyphs">Follow-up (years)</text>
<text x="264.80" y="193.30" font-size="12.2" fill="#111" font-weight="bold" textLength="7.5" lengthAdjust="spacingAndGlyphs">D</text>
<text x="317.00" y="201.75" font-size="9.5" fill="#1a1a1a">OS by rs7265241 SNP in AML08 Cohort</text>
<text x="330.00" y="212.73" font-size="6.2" stroke="#111111" stroke-width="0.06">AML08: OS by rs7265241</text>
<line x1="410.55" y1="210.50" x2="416.95" y2="210.50" stroke="#1c356b" stroke-width="1.0"/>
<line x1="413.75" y1="208.90" x2="413.75" y2="212.10" stroke="#1c356b" stroke-width="0.8"/>
<text x="418.75" y="212.73" font-size="6.2" stroke="#111111" stroke-width="0.06">AA</text>
<line x1="429.80" y1="210.50" x2="436.20" y2="210.50" stroke="#e8c24c" stroke-width="1.0"/>
<line x1="433.00" y1="208.90" x2="433.00" y2="212.10" stroke="#e8c24c" stroke-width="0.8"/>
<text x="438.75" y="212.73" font-size="6.2" stroke="#111111" stroke-width="0.06" textLength="27.5" lengthAdjust="spacingAndGlyphs">AG + GG</text>
<text transform="translate(282.76,242.00) rotate(-90)" font-size="6.6" text-anchor="middle" textLength="31.0" lengthAdjust="spacingAndGlyphs" fill="#222" stroke="#222" stroke-width="0.28">OS probability</text>
<line x1="306.20" y1="217.25" x2="306.20" y2="273.90" stroke="#2a2a2a" stroke-width="1.4"/>
<line x1="305.50" y1="273.20" x2="497.00" y2="273.20" stroke="#2a2a2a" stroke-width="1.4"/>
<line x1="303.60" y1="220.25" x2="306.20" y2="220.25" stroke="#2a2a2a" stroke-width="1.2"/>
<text x="300.30" y="222.48" font-size="6.2" text-anchor="end" stroke="#111111" stroke-width="0.06">1.00</text>
<line x1="303.60" y1="232.84" x2="306.20" y2="232.84" stroke="#2a2a2a" stroke-width="1.2"/>
<text x="300.30" y="235.07" font-size="6.2" text-anchor="end" stroke="#111111" stroke-width="0.06">0.75</text>
<line x1="303.60" y1="245.43" x2="306.20" y2="245.43" stroke="#2a2a2a" stroke-width="1.2"/>
<text x="300.30" y="247.66" font-size="6.2" text-anchor="end" stroke="#111111" stroke-width="0.06">0.50</text>
<line x1="303.60" y1="258.01" x2="306.20" y2="258.01" stroke="#2a2a2a" stroke-width="1.2"/>
<text x="300.30" y="260.24" font-size="6.2" text-anchor="end" stroke="#111111" stroke-width="0.06">0.25</text>
<line x1="303.60" y1="270.60" x2="306.20" y2="270.60" stroke="#2a2a2a" stroke-width="1.2"/>
<text x="300.30" y="272.83" font-size="6.2" text-anchor="end" stroke="#111111" stroke-width="0.06">0.00</text>
<line x1="314.50" y1="273.20" x2="314.50" y2="276.30" stroke="#2a2a2a" stroke-width="1.2"/>
<text x="314.50" y="285.23" font-size="6.2" text-anchor="middle" stroke="#111111" stroke-width="0.06">0</text>
<line x1="358.00" y1="273.20" x2="358.00" y2="276.30" stroke="#2a2a2a" stroke-width="1.2"/>
<text x="358.00" y="285.23" font-size="6.2" text-anchor="middle" stroke="#111111" stroke-width="0.06">2.5</text>
<line x1="401.50" y1="273.20" x2="401.50" y2="276.30" stroke="#2a2a2a" stroke-width="1.2"/>
<text x="401.50" y="285.23" font-size="6.2" text-anchor="middle" stroke="#111111" stroke-width="0.06">5</text>
<line x1="445.00" y1="273.20" x2="445.00" y2="276.30" stroke="#2a2a2a" stroke-width="1.2"/>
<text x="445.00" y="285.23" font-size="6.2" text-anchor="middle" stroke="#111111" stroke-width="0.06">7.5</text>
<line x1="488.50" y1="273.20" x2="488.50" y2="276.30" stroke="#2a2a2a" stroke-width="1.2"/>
<text x="488.50" y="285.23" font-size="6.2" text-anchor="middle" stroke="#111111" stroke-width="0.06">10</text>
<text x="382.10" y="296.32" font-size="7.0" fill="#3a3a3a" stroke="#3a3a3a" stroke-width="0.06" font-weight="bold" textLength="39.6" lengthAdjust="spacingAndGlyphs">Follow-up (years)</text>
<path d="M315.30 220.60H320.50V221.50H322.50V222.30H324.50V222.90H328.00V224.10H331.00V225.30H333.80V226.40H336.00V227.30H338.40V228.10H343.00V229.80H347.00V230.40H351.00V231.00H355.00V231.90H359.10V232.70H366.00V233.90H373.00V234.50H385.00V235.00H400.00V235.40H420.00V235.70H488.75V235.80" fill="none" stroke="#22355c" stroke-width="1.5"/>
<path d="M315.30 220.60H320.50V224.70H324.00V233.30H331.50V234.50H336.00V236.80H343.60V239.10H367.20V242.50H370.70V245.20H462.50V245.20" fill="none" stroke="#e8c24c" stroke-width="1.1"/>
<line x1="350.00" y1="230.00" x2="350.00" y2="232.10" stroke="#1c356b" stroke-width="0.9"/>
<line x1="351.60" y1="230.60" x2="351.60" y2="232.70" stroke="#1c356b" stroke-width="0.9"/>
<line x1="356.10" y1="231.50" x2="356.10" y2="233.60" stroke="#1c356b" stroke-width="0.9"/>
<line x1="358.90" y1="231.50" x2="358.90" y2="233.60" stroke="#1c356b" stroke-width="0.9"/>
<line x1="360.50" y1="232.30" x2="360.50" y2="234.40" stroke="#1c356b" stroke-width="0.9"/>
<line x1="363.30" y1="232.30" x2="363.30" y2="234.40" stroke="#1c356b" stroke-width="0.9"/>
<line x1="366.10" y1="233.50" x2="366.10" y2="235.60" stroke="#1c356b" stroke-width="0.9"/>
<line x1="368.90" y1="233.50" x2="368.90" y2="235.60" stroke="#1c356b" stroke-width="0.9"/>
<line x1="372.40" y1="233.50" x2="372.40" y2="235.60" stroke="#1c356b" stroke-width="0.9"/>
<line x1="375.20" y1="234.10" x2="375.20" y2="236.20" stroke="#1c356b" stroke-width="0.9"/>
<line x1="377.40" y1="234.10" x2="377.40" y2="236.20" stroke="#1c356b" stroke-width="0.9"/>
<line x1="380.90" y1="234.10" x2="380.90" y2="236.20" stroke="#1c356b" stroke-width="0.9"/>
<line x1="384.40" y1="234.10" x2="384.40" y2="236.20" stroke="#1c356b" stroke-width="0.9"/>
<line x1="386.60" y1="234.60" x2="386.60" y2="236.70" stroke="#1c356b" stroke-width="0.9"/>
<line x1="388.20" y1="234.60" x2="388.20" y2="236.70" stroke="#1c356b" stroke-width="0.9"/>
<line x1="391.00" y1="234.60" x2="391.00" y2="236.70" stroke="#1c356b" stroke-width="0.9"/>
<line x1="392.60" y1="234.60" x2="392.60" y2="236.70" stroke="#1c356b" stroke-width="0.9"/>
<line x1="395.40" y1="234.60" x2="395.40" y2="236.70" stroke="#1c356b" stroke-width="0.9"/>
<line x1="398.90" y1="234.60" x2="398.90" y2="236.70" stroke="#1c356b" stroke-width="0.9"/>
<line x1="400.50" y1="235.00" x2="400.50" y2="237.10" stroke="#1c356b" stroke-width="0.9"/>
<line x1="405.00" y1="235.00" x2="405.00" y2="237.10" stroke="#1c356b" stroke-width="0.9"/>
<line x1="408.50" y1="235.00" x2="408.50" y2="237.10" stroke="#1c356b" stroke-width="0.9"/>
<line x1="411.30" y1="235.00" x2="411.30" y2="237.10" stroke="#1c356b" stroke-width="0.9"/>
<line x1="414.80" y1="235.00" x2="414.80" y2="237.10" stroke="#1c356b" stroke-width="0.9"/>
<line x1="419.30" y1="235.00" x2="419.30" y2="237.10" stroke="#1c356b" stroke-width="0.9"/>
<line x1="420.90" y1="235.30" x2="420.90" y2="237.40" stroke="#1c356b" stroke-width="0.9"/>
<line x1="424.40" y1="235.30" x2="424.40" y2="237.40" stroke="#1c356b" stroke-width="0.9"/>
<line x1="426.00" y1="235.30" x2="426.00" y2="237.40" stroke="#1c356b" stroke-width="0.9"/>
<line x1="428.20" y1="235.30" x2="428.20" y2="237.40" stroke="#1c356b" stroke-width="0.9"/>
<line x1="432.70" y1="235.30" x2="432.70" y2="237.40" stroke="#1c356b" stroke-width="0.9"/>
<line x1="434.90" y1="235.30" x2="434.90" y2="237.40" stroke="#1c356b" stroke-width="0.9"/>
<line x1="436.50" y1="235.30" x2="436.50" y2="237.40" stroke="#1c356b" stroke-width="0.9"/>
<line x1="438.70" y1="235.30" x2="438.70" y2="237.40" stroke="#1c356b" stroke-width="0.9"/>
<line x1="442.20" y1="235.30" x2="442.20" y2="237.40" stroke="#1c356b" stroke-width="0.9"/>
<line x1="445.00" y1="235.30" x2="445.00" y2="237.40" stroke="#1c356b" stroke-width="0.9"/>
<line x1="449.50" y1="235.30" x2="449.50" y2="237.40" stroke="#1c356b" stroke-width="0.9"/>
<line x1="452.30" y1="235.30" x2="452.30" y2="237.40" stroke="#1c356b" stroke-width="0.9"/>
<line x1="456.80" y1="235.30" x2="456.80" y2="237.40" stroke="#1c356b" stroke-width="0.9"/>
<line x1="459.60" y1="235.30" x2="459.60" y2="237.40" stroke="#1c356b" stroke-width="0.9"/>
<line x1="463.10" y1="235.30" x2="463.10" y2="237.40" stroke="#1c356b" stroke-width="0.9"/>
<line x1="464.70" y1="235.30" x2="464.70" y2="237.40" stroke="#1c356b" stroke-width="0.9"/>
<line x1="469.20" y1="235.30" x2="469.20" y2="237.40" stroke="#1c356b" stroke-width="0.9"/>
<line x1="472.00" y1="235.30" x2="472.00" y2="237.40" stroke="#1c356b" stroke-width="0.9"/>
<line x1="474.80" y1="235.30" x2="474.80" y2="237.40" stroke="#1c356b" stroke-width="0.9"/>
<line x1="476.40" y1="235.30" x2="476.40" y2="237.40" stroke="#1c356b" stroke-width="0.9"/>
<line x1="479.90" y1="235.30" x2="479.90" y2="237.40" stroke="#1c356b" stroke-width="0.9"/>
<line x1="481.50" y1="235.30" x2="481.50" y2="237.40" stroke="#1c356b" stroke-width="0.9"/>
<line x1="483.70" y1="235.30" x2="483.70" y2="237.40" stroke="#1c356b" stroke-width="0.9"/>
<line x1="486.50" y1="235.30" x2="486.50" y2="237.40" stroke="#1c356b" stroke-width="0.9"/>
<line x1="385.00" y1="243.40" x2="385.00" y2="246.60" stroke="#e8c24c" stroke-width="0.8"/>
<line x1="400.00" y1="243.40" x2="400.00" y2="246.60" stroke="#e8c24c" stroke-width="0.8"/>
<line x1="420.00" y1="243.40" x2="420.00" y2="246.60" stroke="#e8c24c" stroke-width="0.8"/>
<line x1="440.00" y1="243.40" x2="440.00" y2="246.60" stroke="#e8c24c" stroke-width="0.8"/>
<line x1="462.00" y1="243.40" x2="462.00" y2="246.60" stroke="#e8c24c" stroke-width="0.8"/>
<text x="309.45" y="260.23" font-size="6.2" stroke="#111111" stroke-width="0.06" textLength="103.95" lengthAdjust="spacingAndGlyphs">AA vs. AG+GG: unadjusted, <tspan font-style="italic">P</tspan> = .027</text>
<text x="309.45" y="270.43" font-size="6.2" stroke="#111111" stroke-width="0.06" textLength="108.25" lengthAdjust="spacingAndGlyphs">AA vs. AG+GG: risk-adjusted, <tspan font-style="italic">P</tspan> = .010</text>
<text x="306.25" y="303.53" font-size="6.2" stroke="#111111" stroke-width="0.06">Number at risk</text>
<line x1="306.30" y1="305.50" x2="306.30" y2="327.70" stroke="#2a2a2a" stroke-width="1.4"/>
<line x1="305.60" y1="327.00" x2="497.00" y2="327.00" stroke="#2a2a2a" stroke-width="1.4"/>
<line x1="303.70" y1="312.00" x2="306.30" y2="312.00" stroke="#2a2a2a" stroke-width="1.2"/>
<text x="300.00" y="314.23" font-size="6.2" text-anchor="end" fill="#2b4d82" stroke="#2b4d82" stroke-width="0.06">AA</text>
<text x="314.50" y="314.23" font-size="6.2" text-anchor="middle" fill="#2b4d82" stroke="#2b4d82" stroke-width="0.06">210</text>
<text x="358.00" y="314.23" font-size="6.2" text-anchor="middle" fill="#2b4d82" stroke="#2b4d82" stroke-width="0.06">148</text>
<text x="401.50" y="314.23" font-size="6.2" text-anchor="middle" fill="#2b4d82" stroke="#2b4d82" stroke-width="0.06">93</text>
<text x="445.00" y="314.23" font-size="6.2" text-anchor="middle" fill="#2b4d82" stroke="#2b4d82" stroke-width="0.06">43</text>
<text x="488.50" y="314.23" font-size="6.2" text-anchor="middle" fill="#2b4d82" stroke="#2b4d82" stroke-width="0.06">18</text>
<line x1="303.70" y1="322.00" x2="306.30" y2="322.00" stroke="#2a2a2a" stroke-width="1.2"/>
<text x="300.00" y="324.23" font-size="6.2" text-anchor="end" fill="#efc54e" stroke="#efc54e" stroke-width="0.06" textLength="27" lengthAdjust="spacingAndGlyphs">AG + GG</text>
<text x="314.50" y="324.23" font-size="6.2" text-anchor="middle" fill="#efc54e" stroke="#efc54e" stroke-width="0.06">23</text>
<text x="358.00" y="324.23" font-size="6.2" text-anchor="middle" fill="#efc54e" stroke="#efc54e" stroke-width="0.06">14</text>
<text x="401.50" y="324.23" font-size="6.2" text-anchor="middle" fill="#efc54e" stroke="#efc54e" stroke-width="0.06">5</text>
<text x="445.00" y="324.23" font-size="6.2" text-anchor="middle" fill="#efc54e" stroke="#efc54e" stroke-width="0.06">1</text>
<text x="488.50" y="324.23" font-size="6.2" text-anchor="middle" fill="#efc54e" stroke="#efc54e" stroke-width="0.06">0</text>
<line x1="314.50" y1="327.00" x2="314.50" y2="330.10" stroke="#2a2a2a" stroke-width="1.2"/>
<text x="314.50" y="339.03" font-size="6.2" text-anchor="middle" stroke="#111111" stroke-width="0.06">0</text>
<line x1="358.00" y1="327.00" x2="358.00" y2="330.10" stroke="#2a2a2a" stroke-width="1.2"/>
<text x="358.00" y="339.03" font-size="6.2" text-anchor="middle" stroke="#111111" stroke-width="0.06">2.5</text>
<line x1="401.50" y1="327.00" x2="401.50" y2="330.10" stroke="#2a2a2a" stroke-width="1.2"/>
<text x="401.50" y="339.03" font-size="6.2" text-anchor="middle" stroke="#111111" stroke-width="0.06">5</text>
<line x1="445.00" y1="327.00" x2="445.00" y2="330.10" stroke="#2a2a2a" stroke-width="1.2"/>
<text x="445.00" y="339.03" font-size="6.2" text-anchor="middle" stroke="#111111" stroke-width="0.06">7.5</text>
<line x1="488.50" y1="327.00" x2="488.50" y2="330.10" stroke="#2a2a2a" stroke-width="1.2"/>
<text x="488.50" y="339.03" font-size="6.2" text-anchor="middle" stroke="#111111" stroke-width="0.06">10</text>
<text x="389.80" y="349.52" font-size="7.0" fill="#3a3a3a" stroke="#3a3a3a" stroke-width="0.06" font-weight="bold" textLength="39.4" lengthAdjust="spacingAndGlyphs">Follow-up (years)</text>
<text x="7.20" y="367.60" font-size="12.2" fill="#111" font-weight="bold" textLength="6.9" lengthAdjust="spacingAndGlyphs">E</text>
<text x="50.00" y="375.75" font-size="9.5" fill="#1a1a1a">EFS&#160;&#160;by rs7265241 SNP in AAML1031 Cohort</text>
<text x="57.00" y="386.83" font-size="6.2" stroke="#111111" stroke-width="0.06">EFS by rs7265241 in COG AAML 1031</text>
<line x1="173.05" y1="384.60" x2="179.45" y2="384.60" stroke="#1c356b" stroke-width="1.0"/>
<line x1="176.25" y1="383.00" x2="176.25" y2="386.20" stroke="#1c356b" stroke-width="0.8"/>
<text x="181.25" y="386.83" font-size="6.2" stroke="#111111" stroke-width="0.06">AA</text>
<line x1="193.05" y1="384.60" x2="199.45" y2="384.60" stroke="#e8c24c" stroke-width="1.0"/>
<line x1="196.25" y1="383.00" x2="196.25" y2="386.20" stroke="#e8c24c" stroke-width="0.8"/>
<text x="202.50" y="386.83" font-size="6.2" stroke="#111111" stroke-width="0.06" textLength="27.5" lengthAdjust="spacingAndGlyphs">AG + GG</text>
<text transform="translate(20.96,425.90) rotate(-90)" font-size="6.6" text-anchor="middle" textLength="32.8" lengthAdjust="spacingAndGlyphs" fill="#222" stroke="#222" stroke-width="0.28">EFS probability</text>
<line x1="45.00" y1="391.40" x2="45.00" y2="458.20" stroke="#2a2a2a" stroke-width="1.4"/>
<line x1="44.30" y1="457.50" x2="248.00" y2="457.50" stroke="#2a2a2a" stroke-width="1.4"/>
<line x1="42.40" y1="394.40" x2="45.00" y2="394.40" stroke="#2a2a2a" stroke-width="1.2"/>
<text x="38.80" y="396.63" font-size="6.2" text-anchor="end" stroke="#111111" stroke-width="0.06">1.00</text>
<line x1="42.40" y1="409.45" x2="45.00" y2="409.45" stroke="#2a2a2a" stroke-width="1.2"/>
<text x="38.80" y="411.68" font-size="6.2" text-anchor="end" stroke="#111111" stroke-width="0.06">0.75</text>
<line x1="42.40" y1="424.50" x2="45.00" y2="424.50" stroke="#2a2a2a" stroke-width="1.2"/>
<text x="38.80" y="426.73" font-size="6.2" text-anchor="end" stroke="#111111" stroke-width="0.06">0.50</text>
<line x1="42.40" y1="439.55" x2="45.00" y2="439.55" stroke="#2a2a2a" stroke-width="1.2"/>
<text x="38.80" y="441.78" font-size="6.2" text-anchor="end" stroke="#111111" stroke-width="0.06">0.25</text>
<line x1="42.40" y1="454.60" x2="45.00" y2="454.60" stroke="#2a2a2a" stroke-width="1.2"/>
<text x="38.80" y="456.83" font-size="6.2" text-anchor="end" stroke="#111111" stroke-width="0.06">0.00</text>
<line x1="53.50" y1="457.50" x2="53.50" y2="460.60" stroke="#2a2a2a" stroke-width="1.2"/>
<text x="53.50" y="469.43" font-size="6.2" text-anchor="middle" stroke="#111111" stroke-width="0.06">0</text>
<line x1="100.10" y1="457.50" x2="100.10" y2="460.60" stroke="#2a2a2a" stroke-width="1.2"/>
<text x="100.10" y="469.43" font-size="6.2" text-anchor="middle" stroke="#111111" stroke-width="0.06">2</text>
<line x1="146.70" y1="457.50" x2="146.70" y2="460.60" stroke="#2a2a2a" stroke-width="1.2"/>
<text x="146.70" y="469.43" font-size="6.2" text-anchor="middle" stroke="#111111" stroke-width="0.06">4</text>
<line x1="193.30" y1="457.50" x2="193.30" y2="460.60" stroke="#2a2a2a" stroke-width="1.2"/>
<text x="193.30" y="469.43" font-size="6.2" text-anchor="middle" stroke="#111111" stroke-width="0.06">6</text>
<line x1="239.90" y1="457.50" x2="239.90" y2="460.60" stroke="#2a2a2a" stroke-width="1.2"/>
<text x="239.90" y="469.43" font-size="6.2" text-anchor="middle" stroke="#111111" stroke-width="0.06">8</text>
<text x="123.75" y="479.72" font-size="7.0" fill="#3a3a3a" stroke="#3a3a3a" stroke-width="0.06" font-weight="bold" textLength="40.0" lengthAdjust="spacingAndGlyphs">Follow-up (years)</text>
<path d="M53.50 394.40 L55.83 395.30 L56.90 404.63 L60.49 406.14 L65.38 407.70 L70.00 411.50 L74.61 416.91 L79.13 420.83 L85.42 424.62 L93.11 426.91 L102.20 428.17 L114.08 428.71 L135.05 429.14 L170.00 429.56 L204.95 429.92 L249.22 430.28" fill="none" stroke="#e8c24c" stroke-width="1.8"/>
<path d="M53.50 394.40 L55.36 394.70 L56.90 399.22 L60.79 402.29 L65.38 405.42 L70.00 410.77 L74.61 415.41 L79.13 418.90 L85.42 422.27 L93.11 425.70 L102.20 427.39 L111.52 428.17 L126.89 428.59 L158.35 429.20 L193.30 429.62 L249.22 430.04" fill="none" stroke="#1a2f5a" stroke-width="1.8"/>
<path d="M53.50 394.40H56.90V414.20H60.00V434.40H68.10V454.60" fill="none" stroke="#7a5c96" stroke-width="1.1"/>
<line x1="60.49" y1="400.65" x2="60.49" y2="403.45" stroke="#1a2f5a" stroke-width="0.9"/>
<line x1="62.82" y1="402.27" x2="62.82" y2="405.07" stroke="#1a2f5a" stroke-width="0.9"/>
<line x1="65.15" y1="403.86" x2="65.15" y2="406.66" stroke="#1a2f5a" stroke-width="0.9"/>
<line x1="67.48" y1="406.45" x2="67.48" y2="409.25" stroke="#1a2f5a" stroke-width="0.9"/>
<line x1="69.81" y1="409.16" x2="69.81" y2="411.96" stroke="#1a2f5a" stroke-width="0.9"/>
<line x1="72.14" y1="411.53" x2="72.14" y2="414.33" stroke="#1a2f5a" stroke-width="0.9"/>
<line x1="74.47" y1="413.87" x2="74.47" y2="416.67" stroke="#1a2f5a" stroke-width="0.9"/>
<line x1="76.80" y1="415.70" x2="76.80" y2="418.50" stroke="#1a2f5a" stroke-width="0.9"/>
<line x1="79.13" y1="417.50" x2="79.13" y2="420.30" stroke="#1a2f5a" stroke-width="0.9"/>
<line x1="81.46" y1="418.75" x2="81.46" y2="421.55" stroke="#1a2f5a" stroke-width="0.9"/>
<line x1="83.79" y1="420.00" x2="83.79" y2="422.80" stroke="#1a2f5a" stroke-width="0.9"/>
<line x1="86.12" y1="421.18" x2="86.12" y2="423.98" stroke="#1a2f5a" stroke-width="0.9"/>
<line x1="88.45" y1="422.22" x2="88.45" y2="425.02" stroke="#1a2f5a" stroke-width="0.9"/>
<line x1="90.78" y1="423.26" x2="90.78" y2="426.06" stroke="#1a2f5a" stroke-width="0.9"/>
<line x1="93.11" y1="424.30" x2="93.11" y2="427.10" stroke="#1a2f5a" stroke-width="0.9"/>
<line x1="95.44" y1="424.74" x2="95.44" y2="427.54" stroke="#1a2f5a" stroke-width="0.9"/>
<line x1="97.77" y1="425.17" x2="97.77" y2="427.97" stroke="#1a2f5a" stroke-width="0.9"/>
<line x1="100.10" y1="425.60" x2="100.10" y2="428.40" stroke="#1a2f5a" stroke-width="0.9"/>
<line x1="102.43" y1="426.01" x2="102.43" y2="428.81" stroke="#1a2f5a" stroke-width="0.9"/>
<line x1="104.76" y1="426.20" x2="104.76" y2="429.00" stroke="#1a2f5a" stroke-width="0.9"/>
<line x1="107.09" y1="426.40" x2="107.09" y2="429.20" stroke="#1a2f5a" stroke-width="0.9"/>
<line x1="109.42" y1="426.60" x2="109.42" y2="429.40" stroke="#1a2f5a" stroke-width="0.9"/>
<line x1="111.75" y1="426.78" x2="111.75" y2="429.58" stroke="#1a2f5a" stroke-width="0.9"/>
<line x1="114.08" y1="426.84" x2="114.08" y2="429.64" stroke="#1a2f5a" stroke-width="0.9"/>
<line x1="116.41" y1="426.91" x2="116.41" y2="429.71" stroke="#1a2f5a" stroke-width="0.9"/>
<line x1="118.74" y1="426.97" x2="118.74" y2="429.77" stroke="#1a2f5a" stroke-width="0.9"/>
<line x1="121.07" y1="427.03" x2="121.07" y2="429.83" stroke="#1a2f5a" stroke-width="0.9"/>
<line x1="123.40" y1="427.10" x2="123.40" y2="429.90" stroke="#1a2f5a" stroke-width="0.9"/>
<line x1="125.73" y1="427.16" x2="125.73" y2="429.96" stroke="#1a2f5a" stroke-width="0.9"/>
<line x1="128.06" y1="427.22" x2="128.06" y2="430.02" stroke="#1a2f5a" stroke-width="0.9"/>
<line x1="130.39" y1="427.26" x2="130.39" y2="430.06" stroke="#1a2f5a" stroke-width="0.9"/>
<line x1="132.72" y1="427.31" x2="132.72" y2="430.11" stroke="#1a2f5a" stroke-width="0.9"/>
<line x1="135.05" y1="427.35" x2="135.05" y2="430.15" stroke="#1a2f5a" stroke-width="0.9"/>
<line x1="137.38" y1="427.39" x2="137.38" y2="430.19" stroke="#1a2f5a" stroke-width="0.9"/>
<line x1="139.71" y1="427.44" x2="139.71" y2="430.24" stroke="#1a2f5a" stroke-width="0.9"/>
<line x1="142.04" y1="427.48" x2="142.04" y2="430.28" stroke="#1a2f5a" stroke-width="0.9"/>
<line x1="144.37" y1="427.53" x2="144.37" y2="430.33" stroke="#1a2f5a" stroke-width="0.9"/>
<line x1="146.70" y1="427.57" x2="146.70" y2="430.37" stroke="#1a2f5a" stroke-width="0.9"/>
<line x1="149.03" y1="427.62" x2="149.03" y2="430.42" stroke="#1a2f5a" stroke-width="0.9"/>
<line x1="151.36" y1="427.66" x2="151.36" y2="430.46" stroke="#1a2f5a" stroke-width="0.9"/>
<line x1="153.69" y1="427.71" x2="153.69" y2="430.51" stroke="#1a2f5a" stroke-width="0.9"/>
<line x1="156.02" y1="427.75" x2="156.02" y2="430.55" stroke="#1a2f5a" stroke-width="0.9"/>
<line x1="158.35" y1="427.80" x2="158.35" y2="430.60" stroke="#1a2f5a" stroke-width="0.9"/>
<line x1="160.68" y1="427.82" x2="160.68" y2="430.62" stroke="#1a2f5a" stroke-width="0.9"/>
<line x1="163.01" y1="427.85" x2="163.01" y2="430.65" stroke="#1a2f5a" stroke-width="0.9"/>
<line x1="165.34" y1="427.88" x2="165.34" y2="430.68" stroke="#1a2f5a" stroke-width="0.9"/>
<line x1="167.67" y1="427.91" x2="167.67" y2="430.71" stroke="#1a2f5a" stroke-width="0.9"/>
<line x1="170.00" y1="427.94" x2="170.00" y2="430.74" stroke="#1a2f5a" stroke-width="0.9"/>
<line x1="172.33" y1="427.96" x2="172.33" y2="430.76" stroke="#1a2f5a" stroke-width="0.9"/>
<line x1="174.66" y1="427.99" x2="174.66" y2="430.79" stroke="#1a2f5a" stroke-width="0.9"/>
<line x1="176.99" y1="428.02" x2="176.99" y2="430.82" stroke="#1a2f5a" stroke-width="0.9"/>
<line x1="179.32" y1="428.05" x2="179.32" y2="430.85" stroke="#1a2f5a" stroke-width="0.9"/>
<line x1="181.65" y1="428.08" x2="181.65" y2="430.88" stroke="#1a2f5a" stroke-width="0.9"/>
<line x1="183.98" y1="428.10" x2="183.98" y2="430.90" stroke="#1a2f5a" stroke-width="0.9"/>
<line x1="186.31" y1="428.13" x2="186.31" y2="430.93" stroke="#1a2f5a" stroke-width="0.9"/>
<line x1="188.64" y1="428.16" x2="188.64" y2="430.96" stroke="#1a2f5a" stroke-width="0.9"/>
<line x1="190.97" y1="428.19" x2="190.97" y2="430.99" stroke="#1a2f5a" stroke-width="0.9"/>
<line x1="193.30" y1="428.22" x2="193.30" y2="431.02" stroke="#1a2f5a" stroke-width="0.9"/>
<line x1="195.63" y1="428.23" x2="195.63" y2="431.03" stroke="#1a2f5a" stroke-width="0.9"/>
<line x1="197.96" y1="428.25" x2="197.96" y2="431.05" stroke="#1a2f5a" stroke-width="0.9"/>
<line x1="200.29" y1="428.27" x2="200.29" y2="431.07" stroke="#1a2f5a" stroke-width="0.9"/>
<line x1="202.62" y1="428.29" x2="202.62" y2="431.09" stroke="#1a2f5a" stroke-width="0.9"/>
<line x1="204.95" y1="428.30" x2="204.95" y2="431.10" stroke="#1a2f5a" stroke-width="0.9"/>
<line x1="207.28" y1="428.32" x2="207.28" y2="431.12" stroke="#1a2f5a" stroke-width="0.9"/>
<line x1="209.61" y1="428.34" x2="209.61" y2="431.14" stroke="#1a2f5a" stroke-width="0.9"/>
<line x1="211.94" y1="428.36" x2="211.94" y2="431.16" stroke="#1a2f5a" stroke-width="0.9"/>
<line x1="214.27" y1="428.38" x2="214.27" y2="431.18" stroke="#1a2f5a" stroke-width="0.9"/>
<line x1="216.60" y1="428.39" x2="216.60" y2="431.19" stroke="#1a2f5a" stroke-width="0.9"/>
<line x1="218.93" y1="428.41" x2="218.93" y2="431.21" stroke="#1a2f5a" stroke-width="0.9"/>
<line x1="221.26" y1="428.43" x2="221.26" y2="431.23" stroke="#1a2f5a" stroke-width="0.9"/>
<line x1="223.59" y1="428.45" x2="223.59" y2="431.25" stroke="#1a2f5a" stroke-width="0.9"/>
<line x1="225.92" y1="428.46" x2="225.92" y2="431.26" stroke="#1a2f5a" stroke-width="0.9"/>
<line x1="228.25" y1="428.48" x2="228.25" y2="431.28" stroke="#1a2f5a" stroke-width="0.9"/>
<line x1="230.58" y1="428.50" x2="230.58" y2="431.30" stroke="#1a2f5a" stroke-width="0.9"/>
<line x1="232.91" y1="428.52" x2="232.91" y2="431.32" stroke="#1a2f5a" stroke-width="0.9"/>
<line x1="235.24" y1="428.53" x2="235.24" y2="431.33" stroke="#1a2f5a" stroke-width="0.9"/>
<line x1="237.57" y1="428.55" x2="237.57" y2="431.35" stroke="#1a2f5a" stroke-width="0.9"/>
<line x1="239.90" y1="428.57" x2="239.90" y2="431.37" stroke="#1a2f5a" stroke-width="0.9"/>
<line x1="242.23" y1="428.59" x2="242.23" y2="431.39" stroke="#1a2f5a" stroke-width="0.9"/>
<line x1="244.56" y1="428.60" x2="244.56" y2="431.40" stroke="#1a2f5a" stroke-width="0.9"/>
<line x1="246.89" y1="428.62" x2="246.89" y2="431.42" stroke="#1a2f5a" stroke-width="0.9"/>
<line x1="76.80" y1="417.41" x2="76.80" y2="420.21" stroke="#e6c040" stroke-width="1.0"/>
<line x1="75.60" y1="418.81" x2="78.00" y2="418.81" stroke="#e6c040" stroke-width="1.2"/>
<line x1="81.69" y1="420.97" x2="81.69" y2="423.77" stroke="#e6c040" stroke-width="1.0"/>
<line x1="80.49" y1="422.37" x2="82.89" y2="422.37" stroke="#e6c040" stroke-width="1.2"/>
<line x1="86.59" y1="423.57" x2="86.59" y2="426.37" stroke="#e6c040" stroke-width="1.0"/>
<line x1="85.39" y1="424.97" x2="87.79" y2="424.97" stroke="#e6c040" stroke-width="1.2"/>
<line x1="91.48" y1="425.02" x2="91.48" y2="427.82" stroke="#e6c040" stroke-width="1.0"/>
<line x1="90.28" y1="426.42" x2="92.68" y2="426.42" stroke="#e6c040" stroke-width="1.2"/>
<line x1="96.37" y1="425.96" x2="96.37" y2="428.76" stroke="#e6c040" stroke-width="1.0"/>
<line x1="95.17" y1="427.36" x2="97.57" y2="427.36" stroke="#e6c040" stroke-width="1.2"/>
<line x1="101.27" y1="426.64" x2="101.27" y2="429.44" stroke="#e6c040" stroke-width="1.0"/>
<line x1="100.06" y1="428.04" x2="102.47" y2="428.04" stroke="#e6c040" stroke-width="1.2"/>
<line x1="106.16" y1="426.95" x2="106.16" y2="429.75" stroke="#e6c040" stroke-width="1.0"/>
<line x1="104.96" y1="428.35" x2="107.36" y2="428.35" stroke="#e6c040" stroke-width="1.2"/>
<line x1="111.05" y1="427.18" x2="111.05" y2="429.98" stroke="#e6c040" stroke-width="1.0"/>
<line x1="109.85" y1="428.58" x2="112.25" y2="428.58" stroke="#e6c040" stroke-width="1.2"/>
<line x1="115.94" y1="427.35" x2="115.94" y2="430.15" stroke="#e6c040" stroke-width="1.0"/>
<line x1="114.74" y1="428.75" x2="117.14" y2="428.75" stroke="#e6c040" stroke-width="1.2"/>
<line x1="120.84" y1="427.45" x2="120.84" y2="430.25" stroke="#e6c040" stroke-width="1.0"/>
<line x1="119.64" y1="428.85" x2="122.04" y2="428.85" stroke="#e6c040" stroke-width="1.2"/>
<line x1="125.73" y1="427.55" x2="125.73" y2="430.35" stroke="#e6c040" stroke-width="1.0"/>
<line x1="124.53" y1="428.95" x2="126.93" y2="428.95" stroke="#e6c040" stroke-width="1.2"/>
<line x1="130.62" y1="427.65" x2="130.62" y2="430.45" stroke="#e6c040" stroke-width="1.0"/>
<line x1="129.42" y1="429.05" x2="131.82" y2="429.05" stroke="#e6c040" stroke-width="1.2"/>
<line x1="135.52" y1="427.74" x2="135.52" y2="430.54" stroke="#e6c040" stroke-width="1.0"/>
<line x1="134.32" y1="429.14" x2="136.72" y2="429.14" stroke="#e6c040" stroke-width="1.2"/>
<line x1="140.41" y1="427.80" x2="140.41" y2="430.60" stroke="#e6c040" stroke-width="1.0"/>
<line x1="139.21" y1="429.20" x2="141.61" y2="429.20" stroke="#e6c040" stroke-width="1.2"/>
<line x1="145.30" y1="427.86" x2="145.30" y2="430.66" stroke="#e6c040" stroke-width="1.0"/>
<line x1="144.10" y1="429.26" x2="146.50" y2="429.26" stroke="#e6c040" stroke-width="1.2"/>
<line x1="150.19" y1="427.92" x2="150.19" y2="430.72" stroke="#e6c040" stroke-width="1.0"/>
<line x1="149.00" y1="429.32" x2="151.39" y2="429.32" stroke="#e6c040" stroke-width="1.2"/>
<line x1="155.09" y1="427.98" x2="155.09" y2="430.78" stroke="#e6c040" stroke-width="1.0"/>
<line x1="153.89" y1="429.38" x2="156.29" y2="429.38" stroke="#e6c040" stroke-width="1.2"/>
<line x1="159.98" y1="428.04" x2="159.98" y2="430.84" stroke="#e6c040" stroke-width="1.0"/>
<line x1="158.78" y1="429.44" x2="161.18" y2="429.44" stroke="#e6c040" stroke-width="1.2"/>
<line x1="164.87" y1="428.09" x2="164.87" y2="430.89" stroke="#e6c040" stroke-width="1.0"/>
<line x1="163.67" y1="429.49" x2="166.07" y2="429.49" stroke="#e6c040" stroke-width="1.2"/>
<line x1="169.77" y1="428.15" x2="169.77" y2="430.95" stroke="#e6c040" stroke-width="1.0"/>
<line x1="168.57" y1="429.55" x2="170.97" y2="429.55" stroke="#e6c040" stroke-width="1.2"/>
<line x1="174.66" y1="428.20" x2="174.66" y2="431.00" stroke="#e6c040" stroke-width="1.0"/>
<line x1="173.46" y1="429.60" x2="175.86" y2="429.60" stroke="#e6c040" stroke-width="1.2"/>
<line x1="179.55" y1="428.26" x2="179.55" y2="431.06" stroke="#e6c040" stroke-width="1.0"/>
<line x1="178.35" y1="429.66" x2="180.75" y2="429.66" stroke="#e6c040" stroke-width="1.2"/>
<line x1="184.45" y1="428.31" x2="184.45" y2="431.11" stroke="#e6c040" stroke-width="1.0"/>
<line x1="183.25" y1="429.71" x2="185.65" y2="429.71" stroke="#e6c040" stroke-width="1.2"/>
<line x1="189.34" y1="428.36" x2="189.34" y2="431.16" stroke="#e6c040" stroke-width="1.0"/>
<line x1="188.14" y1="429.76" x2="190.54" y2="429.76" stroke="#e6c040" stroke-width="1.2"/>
<line x1="194.23" y1="428.41" x2="194.23" y2="431.21" stroke="#e6c040" stroke-width="1.0"/>
<line x1="193.03" y1="429.81" x2="195.43" y2="429.81" stroke="#e6c040" stroke-width="1.2"/>
<line x1="199.12" y1="428.46" x2="199.12" y2="431.26" stroke="#e6c040" stroke-width="1.0"/>
<line x1="197.93" y1="429.86" x2="200.32" y2="429.86" stroke="#e6c040" stroke-width="1.2"/>
<line x1="204.02" y1="428.51" x2="204.02" y2="431.31" stroke="#e6c040" stroke-width="1.0"/>
<line x1="202.82" y1="429.91" x2="205.22" y2="429.91" stroke="#e6c040" stroke-width="1.2"/>
<line x1="208.91" y1="428.55" x2="208.91" y2="431.35" stroke="#e6c040" stroke-width="1.0"/>
<line x1="207.71" y1="429.95" x2="210.11" y2="429.95" stroke="#e6c040" stroke-width="1.2"/>
<line x1="213.80" y1="428.59" x2="213.80" y2="431.39" stroke="#e6c040" stroke-width="1.0"/>
<line x1="212.60" y1="429.99" x2="215.00" y2="429.99" stroke="#e6c040" stroke-width="1.2"/>
<line x1="218.70" y1="428.63" x2="218.70" y2="431.43" stroke="#e6c040" stroke-width="1.0"/>
<line x1="217.50" y1="430.03" x2="219.90" y2="430.03" stroke="#e6c040" stroke-width="1.2"/>
<line x1="223.59" y1="428.67" x2="223.59" y2="431.47" stroke="#e6c040" stroke-width="1.0"/>
<line x1="222.39" y1="430.07" x2="224.79" y2="430.07" stroke="#e6c040" stroke-width="1.2"/>
<line x1="228.48" y1="428.71" x2="228.48" y2="431.51" stroke="#e6c040" stroke-width="1.0"/>
<line x1="227.28" y1="430.11" x2="229.68" y2="430.11" stroke="#e6c040" stroke-width="1.2"/>
<line x1="233.38" y1="428.75" x2="233.38" y2="431.55" stroke="#e6c040" stroke-width="1.0"/>
<line x1="232.18" y1="430.15" x2="234.58" y2="430.15" stroke="#e6c040" stroke-width="1.2"/>
<line x1="238.27" y1="428.79" x2="238.27" y2="431.59" stroke="#e6c040" stroke-width="1.0"/>
<line x1="237.07" y1="430.19" x2="239.47" y2="430.19" stroke="#e6c040" stroke-width="1.2"/>
<line x1="243.16" y1="428.83" x2="243.16" y2="431.63" stroke="#e6c040" stroke-width="1.0"/>
<line x1="241.96" y1="430.23" x2="244.36" y2="430.23" stroke="#e6c040" stroke-width="1.2"/>
<line x1="248.06" y1="428.87" x2="248.06" y2="431.67" stroke="#e6c040" stroke-width="1.0"/>
<line x1="246.86" y1="430.27" x2="249.25" y2="430.27" stroke="#e6c040" stroke-width="1.2"/>
<text x="108.45" y="443.53" font-size="6.2" stroke="#111111" stroke-width="0.06" textLength="105.85" lengthAdjust="spacingAndGlyphs">AA+AG vs. GG: unadjusted, <tspan font-style="italic">P</tspan> = .001</text>
<text x="108.45" y="454.43" font-size="6.2" stroke="#111111" stroke-width="0.06" textLength="108.75" lengthAdjust="spacingAndGlyphs">AA+AG vs. GG: risk-adjusted <tspan font-style="italic">P</tspan> = .001</text>
<text x="45.00" y="487.83" font-size="6.2" stroke="#111111" stroke-width="0.06">Number at risk</text>
<line x1="45.00" y1="490.20" x2="45.00" y2="522.00" stroke="#2a2a2a" stroke-width="1.4"/>
<line x1="44.30" y1="521.30" x2="248.00" y2="521.30" stroke="#2a2a2a" stroke-width="1.4"/>
<line x1="42.40" y1="496.80" x2="45.00" y2="496.80" stroke="#2a2a2a" stroke-width="1.2"/>
<text x="38.80" y="499.03" font-size="6.2" text-anchor="end" fill="#2b4d82" stroke="#2b4d82" stroke-width="0.06">AA</text>
<text x="53.50" y="499.03" font-size="6.2" text-anchor="middle" fill="#2b4d82" stroke="#2b4d82" stroke-width="0.06">740</text>
<text x="100.10" y="499.03" font-size="6.2" text-anchor="middle" fill="#2b4d82" stroke="#2b4d82" stroke-width="0.06">332</text>
<text x="146.70" y="499.03" font-size="6.2" text-anchor="middle" fill="#2b4d82" stroke="#2b4d82" stroke-width="0.06">269</text>
<text x="193.30" y="499.03" font-size="6.2" text-anchor="middle" fill="#2b4d82" stroke="#2b4d82" stroke-width="0.06">102</text>
<text x="239.90" y="499.03" font-size="6.2" text-anchor="middle" fill="#2b4d82" stroke="#2b4d82" stroke-width="0.06">6</text>
<line x1="42.40" y1="506.30" x2="45.00" y2="506.30" stroke="#2a2a2a" stroke-width="1.2"/>
<text x="38.80" y="508.53" font-size="6.2" text-anchor="end" fill="#efc54e" stroke="#efc54e" stroke-width="0.06">AG</text>
<text x="53.50" y="508.53" font-size="6.2" text-anchor="middle" fill="#efc54e" stroke="#efc54e" stroke-width="0.06">106</text>
<text x="100.10" y="508.53" font-size="6.2" text-anchor="middle" fill="#efc54e" stroke="#efc54e" stroke-width="0.06">42</text>
<text x="146.70" y="508.53" font-size="6.2" text-anchor="middle" fill="#efc54e" stroke="#efc54e" stroke-width="0.06">35</text>
<text x="193.30" y="508.53" font-size="6.2" text-anchor="middle" fill="#efc54e" stroke="#efc54e" stroke-width="0.06">14</text>
<text x="239.90" y="508.53" font-size="6.2" text-anchor="middle" fill="#efc54e" stroke="#efc54e" stroke-width="0.06">2</text>
<line x1="42.40" y1="516.70" x2="45.00" y2="516.70" stroke="#2a2a2a" stroke-width="1.2"/>
<text x="38.80" y="518.93" font-size="6.2" text-anchor="end" stroke="#111111" stroke-width="0.06">GG</text>
<text x="53.50" y="518.93" font-size="6.2" text-anchor="middle" stroke="#111111" stroke-width="0.06">3</text>
<text x="100.10" y="518.93" font-size="6.2" text-anchor="middle" stroke="#111111" stroke-width="0.06">0</text>
<text x="146.70" y="518.93" font-size="6.2" text-anchor="middle" stroke="#111111" stroke-width="0.06">0</text>
<text x="193.30" y="518.93" font-size="6.2" text-anchor="middle" stroke="#111111" stroke-width="0.06">0</text>
<text x="239.90" y="518.93" font-size="6.2" text-anchor="middle" stroke="#111111" stroke-width="0.06">0</text>
<line x1="53.50" y1="521.30" x2="53.50" y2="524.40" stroke="#2a2a2a" stroke-width="1.2"/>
<text x="53.50" y="533.53" font-size="6.2" text-anchor="middle" stroke="#111111" stroke-width="0.06">0</text>
<line x1="100.10" y1="521.30" x2="100.10" y2="524.40" stroke="#2a2a2a" stroke-width="1.2"/>
<text x="100.10" y="533.53" font-size="6.2" text-anchor="middle" stroke="#111111" stroke-width="0.06">2</text>
<line x1="146.70" y1="521.30" x2="146.70" y2="524.40" stroke="#2a2a2a" stroke-width="1.2"/>
<text x="146.70" y="533.53" font-size="6.2" text-anchor="middle" stroke="#111111" stroke-width="0.06">4</text>
<line x1="193.30" y1="521.30" x2="193.30" y2="524.40" stroke="#2a2a2a" stroke-width="1.2"/>
<text x="193.30" y="533.53" font-size="6.2" text-anchor="middle" stroke="#111111" stroke-width="0.06">6</text>
<line x1="239.90" y1="521.30" x2="239.90" y2="524.40" stroke="#2a2a2a" stroke-width="1.2"/>
<text x="239.90" y="533.53" font-size="6.2" text-anchor="middle" stroke="#111111" stroke-width="0.06">8</text>
<text x="123.75" y="543.52" font-size="7.0" fill="#3a3a3a" stroke="#3a3a3a" stroke-width="0.06" font-weight="bold" textLength="40.0" lengthAdjust="spacingAndGlyphs">Follow-up (years)</text>
<text x="264.80" y="367.60" font-size="12.2" fill="#111" font-weight="bold" textLength="6.4" lengthAdjust="spacingAndGlyphs">F</text>
<text x="313.75" y="376.25" font-size="9.5" fill="#1a1a1a">OS by rs7265241 SNP in AAML1031 Cohort</text>
<text x="318.75" y="387.23" font-size="6.2" stroke="#111111" stroke-width="0.06">OS by rs7265241 in COG AAML 1031</text>
<line x1="431.80" y1="385.00" x2="438.20" y2="385.00" stroke="#1c356b" stroke-width="1.0"/>
<line x1="435.00" y1="383.40" x2="435.00" y2="386.60" stroke="#1c356b" stroke-width="0.8"/>
<text x="440.00" y="387.23" font-size="6.2" stroke="#111111" stroke-width="0.06">AA</text>
<line x1="453.05" y1="385.00" x2="459.45" y2="385.00" stroke="#e8c24c" stroke-width="1.0"/>
<line x1="456.25" y1="383.40" x2="456.25" y2="386.60" stroke="#e8c24c" stroke-width="0.8"/>
<text x="462.50" y="387.23" font-size="6.2" stroke="#111111" stroke-width="0.06" textLength="27.5" lengthAdjust="spacingAndGlyphs">AG + GG</text>
<text transform="translate(282.76,425.00) rotate(-90)" font-size="6.6" text-anchor="middle" textLength="31.0" lengthAdjust="spacingAndGlyphs" fill="#222" stroke="#222" stroke-width="0.28">OS probability</text>
<line x1="306.20" y1="392.00" x2="306.20" y2="458.20" stroke="#2a2a2a" stroke-width="1.4"/>
<line x1="305.50" y1="457.50" x2="507.50" y2="457.50" stroke="#2a2a2a" stroke-width="1.4"/>
<line x1="303.60" y1="395.00" x2="306.20" y2="395.00" stroke="#2a2a2a" stroke-width="1.2"/>
<text x="300.30" y="397.23" font-size="6.2" text-anchor="end" stroke="#111111" stroke-width="0.06">1.00</text>
<line x1="303.60" y1="409.94" x2="306.20" y2="409.94" stroke="#2a2a2a" stroke-width="1.2"/>
<text x="300.30" y="412.17" font-size="6.2" text-anchor="end" stroke="#111111" stroke-width="0.06">0.75</text>
<line x1="303.60" y1="424.88" x2="306.20" y2="424.88" stroke="#2a2a2a" stroke-width="1.2"/>
<text x="300.30" y="427.11" font-size="6.2" text-anchor="end" stroke="#111111" stroke-width="0.06">0.50</text>
<line x1="303.60" y1="439.81" x2="306.20" y2="439.81" stroke="#2a2a2a" stroke-width="1.2"/>
<text x="300.30" y="442.04" font-size="6.2" text-anchor="end" stroke="#111111" stroke-width="0.06">0.25</text>
<line x1="303.60" y1="454.75" x2="306.20" y2="454.75" stroke="#2a2a2a" stroke-width="1.2"/>
<text x="300.30" y="456.98" font-size="6.2" text-anchor="end" stroke="#111111" stroke-width="0.06">0.00</text>
<line x1="315.20" y1="457.50" x2="315.20" y2="460.60" stroke="#2a2a2a" stroke-width="1.2"/>
<text x="315.20" y="469.43" font-size="6.2" text-anchor="middle" stroke="#111111" stroke-width="0.06">0</text>
<line x1="361.40" y1="457.50" x2="361.40" y2="460.60" stroke="#2a2a2a" stroke-width="1.2"/>
<text x="361.40" y="469.43" font-size="6.2" text-anchor="middle" stroke="#111111" stroke-width="0.06">2</text>
<line x1="407.60" y1="457.50" x2="407.60" y2="460.60" stroke="#2a2a2a" stroke-width="1.2"/>
<text x="407.60" y="469.43" font-size="6.2" text-anchor="middle" stroke="#111111" stroke-width="0.06">4</text>
<line x1="453.80" y1="457.50" x2="453.80" y2="460.60" stroke="#2a2a2a" stroke-width="1.2"/>
<text x="453.80" y="469.43" font-size="6.2" text-anchor="middle" stroke="#111111" stroke-width="0.06">6</text>
<line x1="500.00" y1="457.50" x2="500.00" y2="460.60" stroke="#2a2a2a" stroke-width="1.2"/>
<text x="500.00" y="469.43" font-size="6.2" text-anchor="middle" stroke="#111111" stroke-width="0.06">8</text>
<text x="389.80" y="480.42" font-size="7.0" fill="#3a3a3a" stroke="#3a3a3a" stroke-width="0.06" font-weight="bold" textLength="39.8" lengthAdjust="spacingAndGlyphs">Follow-up (years)</text>
<path d="M315.20 395.60 L319.82 396.49 L323.75 397.69 L329.98 402.17 L336.22 404.92 L342.23 407.25 L348.46 410.00 L356.09 414.60 L363.71 416.51 L371.56 417.23 L386.81 418.48 L424.93 418.72 L453.80 418.90 L509.24 419.26" fill="none" stroke="#e8c24c" stroke-width="1.9"/>
<path d="M315.20 395.60 L320.74 396.91 L325.36 399.18 L329.98 401.99 L336.22 404.92 L342.23 406.95 L350.08 409.70 L356.09 411.49 L363.71 413.10 L371.56 413.82 L386.81 415.08 L407.60 415.79 L424.93 416.27 L453.80 416.51 L509.24 416.75" fill="none" stroke="#1a2f5a" stroke-width="2.0"/>
<path d="M315.40 395.00H318.50V414.80H339.20V434.80H378.75V454.60" fill="none" stroke="#7a5c96" stroke-width="1.1"/>
<line x1="318.66" y1="395.02" x2="318.66" y2="397.82" stroke="#1a2f5a" stroke-width="0.9"/>
<line x1="320.74" y1="395.51" x2="320.74" y2="398.31" stroke="#1a2f5a" stroke-width="0.9"/>
<line x1="322.82" y1="396.53" x2="322.82" y2="399.33" stroke="#1a2f5a" stroke-width="0.9"/>
<line x1="324.90" y1="397.56" x2="324.90" y2="400.36" stroke="#1a2f5a" stroke-width="0.9"/>
<line x1="326.98" y1="398.77" x2="326.98" y2="401.57" stroke="#1a2f5a" stroke-width="0.9"/>
<line x1="329.06" y1="400.03" x2="329.06" y2="402.83" stroke="#1a2f5a" stroke-width="0.9"/>
<line x1="331.14" y1="401.13" x2="331.14" y2="403.93" stroke="#1a2f5a" stroke-width="0.9"/>
<line x1="333.22" y1="402.11" x2="333.22" y2="404.91" stroke="#1a2f5a" stroke-width="0.9"/>
<line x1="335.30" y1="403.08" x2="335.30" y2="405.88" stroke="#1a2f5a" stroke-width="0.9"/>
<line x1="337.38" y1="403.91" x2="337.38" y2="406.71" stroke="#1a2f5a" stroke-width="0.9"/>
<line x1="339.45" y1="404.61" x2="339.45" y2="407.41" stroke="#1a2f5a" stroke-width="0.9"/>
<line x1="341.53" y1="405.32" x2="341.53" y2="408.12" stroke="#1a2f5a" stroke-width="0.9"/>
<line x1="343.61" y1="406.04" x2="343.61" y2="408.84" stroke="#1a2f5a" stroke-width="0.9"/>
<line x1="345.69" y1="406.76" x2="345.69" y2="409.56" stroke="#1a2f5a" stroke-width="0.9"/>
<line x1="347.77" y1="407.49" x2="347.77" y2="410.29" stroke="#1a2f5a" stroke-width="0.9"/>
<line x1="349.85" y1="408.22" x2="349.85" y2="411.02" stroke="#1a2f5a" stroke-width="0.9"/>
<line x1="351.93" y1="408.85" x2="351.93" y2="411.65" stroke="#1a2f5a" stroke-width="0.9"/>
<line x1="354.01" y1="409.47" x2="354.01" y2="412.27" stroke="#1a2f5a" stroke-width="0.9"/>
<line x1="356.09" y1="410.09" x2="356.09" y2="412.89" stroke="#1a2f5a" stroke-width="0.9"/>
<line x1="358.17" y1="410.53" x2="358.17" y2="413.33" stroke="#1a2f5a" stroke-width="0.9"/>
<line x1="360.25" y1="410.97" x2="360.25" y2="413.77" stroke="#1a2f5a" stroke-width="0.9"/>
<line x1="362.32" y1="411.41" x2="362.32" y2="414.21" stroke="#1a2f5a" stroke-width="0.9"/>
<line x1="364.40" y1="411.77" x2="364.40" y2="414.57" stroke="#1a2f5a" stroke-width="0.9"/>
<line x1="366.48" y1="411.96" x2="366.48" y2="414.76" stroke="#1a2f5a" stroke-width="0.9"/>
<line x1="368.56" y1="412.15" x2="368.56" y2="414.95" stroke="#1a2f5a" stroke-width="0.9"/>
<line x1="370.64" y1="412.34" x2="370.64" y2="415.14" stroke="#1a2f5a" stroke-width="0.9"/>
<line x1="372.72" y1="412.52" x2="372.72" y2="415.32" stroke="#1a2f5a" stroke-width="0.9"/>
<line x1="374.80" y1="412.69" x2="374.80" y2="415.49" stroke="#1a2f5a" stroke-width="0.9"/>
<line x1="376.88" y1="412.86" x2="376.88" y2="415.66" stroke="#1a2f5a" stroke-width="0.9"/>
<line x1="378.96" y1="413.03" x2="378.96" y2="415.83" stroke="#1a2f5a" stroke-width="0.9"/>
<line x1="381.03" y1="413.20" x2="381.03" y2="416.00" stroke="#1a2f5a" stroke-width="0.9"/>
<line x1="383.11" y1="413.37" x2="383.11" y2="416.17" stroke="#1a2f5a" stroke-width="0.9"/>
<line x1="385.19" y1="413.54" x2="385.19" y2="416.34" stroke="#1a2f5a" stroke-width="0.9"/>
<line x1="387.27" y1="413.69" x2="387.27" y2="416.49" stroke="#1a2f5a" stroke-width="0.9"/>
<line x1="389.35" y1="413.76" x2="389.35" y2="416.56" stroke="#1a2f5a" stroke-width="0.9"/>
<line x1="391.43" y1="413.84" x2="391.43" y2="416.64" stroke="#1a2f5a" stroke-width="0.9"/>
<line x1="393.51" y1="413.91" x2="393.51" y2="416.71" stroke="#1a2f5a" stroke-width="0.9"/>
<line x1="395.59" y1="413.98" x2="395.59" y2="416.78" stroke="#1a2f5a" stroke-width="0.9"/>
<line x1="397.67" y1="414.05" x2="397.67" y2="416.85" stroke="#1a2f5a" stroke-width="0.9"/>
<line x1="399.75" y1="414.12" x2="399.75" y2="416.92" stroke="#1a2f5a" stroke-width="0.9"/>
<line x1="401.82" y1="414.19" x2="401.82" y2="416.99" stroke="#1a2f5a" stroke-width="0.9"/>
<line x1="403.90" y1="414.27" x2="403.90" y2="417.07" stroke="#1a2f5a" stroke-width="0.9"/>
<line x1="405.98" y1="414.34" x2="405.98" y2="417.14" stroke="#1a2f5a" stroke-width="0.9"/>
<line x1="408.06" y1="414.41" x2="408.06" y2="417.21" stroke="#1a2f5a" stroke-width="0.9"/>
<line x1="410.14" y1="414.46" x2="410.14" y2="417.26" stroke="#1a2f5a" stroke-width="0.9"/>
<line x1="412.22" y1="414.52" x2="412.22" y2="417.32" stroke="#1a2f5a" stroke-width="0.9"/>
<line x1="414.30" y1="414.58" x2="414.30" y2="417.38" stroke="#1a2f5a" stroke-width="0.9"/>
<line x1="416.38" y1="414.64" x2="416.38" y2="417.44" stroke="#1a2f5a" stroke-width="0.9"/>
<line x1="418.46" y1="414.69" x2="418.46" y2="417.49" stroke="#1a2f5a" stroke-width="0.9"/>
<line x1="420.54" y1="414.75" x2="420.54" y2="417.55" stroke="#1a2f5a" stroke-width="0.9"/>
<line x1="422.62" y1="414.81" x2="422.62" y2="417.61" stroke="#1a2f5a" stroke-width="0.9"/>
<line x1="424.69" y1="414.86" x2="424.69" y2="417.66" stroke="#1a2f5a" stroke-width="0.9"/>
<line x1="426.77" y1="414.89" x2="426.77" y2="417.69" stroke="#1a2f5a" stroke-width="0.9"/>
<line x1="428.85" y1="414.90" x2="428.85" y2="417.70" stroke="#1a2f5a" stroke-width="0.9"/>
<line x1="430.93" y1="414.92" x2="430.93" y2="417.72" stroke="#1a2f5a" stroke-width="0.9"/>
<line x1="433.01" y1="414.94" x2="433.01" y2="417.74" stroke="#1a2f5a" stroke-width="0.9"/>
<line x1="435.09" y1="414.96" x2="435.09" y2="417.76" stroke="#1a2f5a" stroke-width="0.9"/>
<line x1="437.17" y1="414.97" x2="437.17" y2="417.77" stroke="#1a2f5a" stroke-width="0.9"/>
<line x1="439.25" y1="414.99" x2="439.25" y2="417.79" stroke="#1a2f5a" stroke-width="0.9"/>
<line x1="441.33" y1="415.01" x2="441.33" y2="417.81" stroke="#1a2f5a" stroke-width="0.9"/>
<line x1="443.40" y1="415.02" x2="443.40" y2="417.82" stroke="#1a2f5a" stroke-width="0.9"/>
<line x1="445.48" y1="415.04" x2="445.48" y2="417.84" stroke="#1a2f5a" stroke-width="0.9"/>
<line x1="447.56" y1="415.06" x2="447.56" y2="417.86" stroke="#1a2f5a" stroke-width="0.9"/>
<line x1="449.64" y1="415.08" x2="449.64" y2="417.88" stroke="#1a2f5a" stroke-width="0.9"/>
<line x1="451.72" y1="415.09" x2="451.72" y2="417.89" stroke="#1a2f5a" stroke-width="0.9"/>
<line x1="453.80" y1="415.11" x2="453.80" y2="417.91" stroke="#1a2f5a" stroke-width="0.9"/>
<line x1="455.88" y1="415.12" x2="455.88" y2="417.92" stroke="#1a2f5a" stroke-width="0.9"/>
<line x1="457.96" y1="415.13" x2="457.96" y2="417.93" stroke="#1a2f5a" stroke-width="0.9"/>
<line x1="460.04" y1="415.14" x2="460.04" y2="417.94" stroke="#1a2f5a" stroke-width="0.9"/>
<line x1="462.12" y1="415.15" x2="462.12" y2="417.95" stroke="#1a2f5a" stroke-width="0.9"/>
<line x1="464.19" y1="415.15" x2="464.19" y2="417.95" stroke="#1a2f5a" stroke-width="0.9"/>
<line x1="466.27" y1="415.16" x2="466.27" y2="417.96" stroke="#1a2f5a" stroke-width="0.9"/>
<line x1="468.35" y1="415.17" x2="468.35" y2="417.97" stroke="#1a2f5a" stroke-width="0.9"/>
<line x1="470.43" y1="415.18" x2="470.43" y2="417.98" stroke="#1a2f5a" stroke-width="0.9"/>
<line x1="472.51" y1="415.19" x2="472.51" y2="417.99" stroke="#1a2f5a" stroke-width="0.9"/>
<line x1="474.59" y1="415.20" x2="474.59" y2="418.00" stroke="#1a2f5a" stroke-width="0.9"/>
<line x1="476.67" y1="415.21" x2="476.67" y2="418.01" stroke="#1a2f5a" stroke-width="0.9"/>
<line x1="478.75" y1="415.22" x2="478.75" y2="418.02" stroke="#1a2f5a" stroke-width="0.9"/>
<line x1="480.83" y1="415.23" x2="480.83" y2="418.03" stroke="#1a2f5a" stroke-width="0.9"/>
<line x1="482.91" y1="415.24" x2="482.91" y2="418.04" stroke="#1a2f5a" stroke-width="0.9"/>
<line x1="484.99" y1="415.24" x2="484.99" y2="418.04" stroke="#1a2f5a" stroke-width="0.9"/>
<line x1="487.06" y1="415.25" x2="487.06" y2="418.05" stroke="#1a2f5a" stroke-width="0.9"/>
<line x1="489.14" y1="415.26" x2="489.14" y2="418.06" stroke="#1a2f5a" stroke-width="0.9"/>
<line x1="491.22" y1="415.27" x2="491.22" y2="418.07" stroke="#1a2f5a" stroke-width="0.9"/>
<line x1="493.30" y1="415.28" x2="493.30" y2="418.08" stroke="#1a2f5a" stroke-width="0.9"/>
<line x1="495.38" y1="415.29" x2="495.38" y2="418.09" stroke="#1a2f5a" stroke-width="0.9"/>
<line x1="497.46" y1="415.30" x2="497.46" y2="418.10" stroke="#1a2f5a" stroke-width="0.9"/>
<line x1="499.54" y1="415.31" x2="499.54" y2="418.11" stroke="#1a2f5a" stroke-width="0.9"/>
<line x1="501.62" y1="415.32" x2="501.62" y2="418.12" stroke="#1a2f5a" stroke-width="0.9"/>
<line x1="503.70" y1="415.33" x2="503.70" y2="418.13" stroke="#1a2f5a" stroke-width="0.9"/>
<line x1="505.77" y1="415.33" x2="505.77" y2="418.13" stroke="#1a2f5a" stroke-width="0.9"/>
<line x1="507.85" y1="415.34" x2="507.85" y2="418.14" stroke="#1a2f5a" stroke-width="0.9"/>
<line x1="326.75" y1="398.45" x2="326.75" y2="401.25" stroke="#e6c040" stroke-width="1.0"/>
<line x1="325.55" y1="399.85" x2="327.95" y2="399.85" stroke="#e6c040" stroke-width="1.2"/>
<line x1="331.60" y1="401.48" x2="331.60" y2="404.28" stroke="#e6c040" stroke-width="1.0"/>
<line x1="330.40" y1="402.88" x2="332.80" y2="402.88" stroke="#e6c040" stroke-width="1.2"/>
<line x1="336.45" y1="403.61" x2="336.45" y2="406.41" stroke="#e6c040" stroke-width="1.0"/>
<line x1="335.25" y1="405.01" x2="337.65" y2="405.01" stroke="#e6c040" stroke-width="1.2"/>
<line x1="341.30" y1="405.49" x2="341.30" y2="408.29" stroke="#e6c040" stroke-width="1.0"/>
<line x1="340.10" y1="406.89" x2="342.50" y2="406.89" stroke="#e6c040" stroke-width="1.2"/>
<line x1="346.15" y1="407.58" x2="346.15" y2="410.38" stroke="#e6c040" stroke-width="1.0"/>
<line x1="344.95" y1="408.98" x2="347.35" y2="408.98" stroke="#e6c040" stroke-width="1.2"/>
<line x1="351.00" y1="410.13" x2="351.00" y2="412.93" stroke="#e6c040" stroke-width="1.0"/>
<line x1="349.81" y1="411.53" x2="352.20" y2="411.53" stroke="#e6c040" stroke-width="1.2"/>
<line x1="355.86" y1="413.06" x2="355.86" y2="415.86" stroke="#e6c040" stroke-width="1.0"/>
<line x1="354.66" y1="414.46" x2="357.06" y2="414.46" stroke="#e6c040" stroke-width="1.2"/>
<line x1="360.71" y1="414.36" x2="360.71" y2="417.16" stroke="#e6c040" stroke-width="1.0"/>
<line x1="359.51" y1="415.76" x2="361.91" y2="415.76" stroke="#e6c040" stroke-width="1.2"/>
<line x1="365.56" y1="415.28" x2="365.56" y2="418.08" stroke="#e6c040" stroke-width="1.0"/>
<line x1="364.36" y1="416.68" x2="366.76" y2="416.68" stroke="#e6c040" stroke-width="1.2"/>
<line x1="370.41" y1="415.72" x2="370.41" y2="418.52" stroke="#e6c040" stroke-width="1.0"/>
<line x1="369.21" y1="417.12" x2="371.61" y2="417.12" stroke="#e6c040" stroke-width="1.2"/>
<line x1="375.26" y1="416.13" x2="375.26" y2="418.93" stroke="#e6c040" stroke-width="1.0"/>
<line x1="374.06" y1="417.53" x2="376.46" y2="417.53" stroke="#e6c040" stroke-width="1.2"/>
<line x1="380.11" y1="416.53" x2="380.11" y2="419.33" stroke="#e6c040" stroke-width="1.0"/>
<line x1="378.91" y1="417.93" x2="381.31" y2="417.93" stroke="#e6c040" stroke-width="1.2"/>
<line x1="384.96" y1="416.93" x2="384.96" y2="419.73" stroke="#e6c040" stroke-width="1.0"/>
<line x1="383.76" y1="418.33" x2="386.16" y2="418.33" stroke="#e6c040" stroke-width="1.2"/>
<line x1="389.81" y1="417.10" x2="389.81" y2="419.90" stroke="#e6c040" stroke-width="1.0"/>
<line x1="388.61" y1="418.50" x2="391.01" y2="418.50" stroke="#e6c040" stroke-width="1.2"/>
<line x1="394.66" y1="417.13" x2="394.66" y2="419.93" stroke="#e6c040" stroke-width="1.0"/>
<line x1="393.46" y1="418.53" x2="395.86" y2="418.53" stroke="#e6c040" stroke-width="1.2"/>
<line x1="399.51" y1="417.16" x2="399.51" y2="419.96" stroke="#e6c040" stroke-width="1.0"/>
<line x1="398.31" y1="418.56" x2="400.71" y2="418.56" stroke="#e6c040" stroke-width="1.2"/>
<line x1="404.37" y1="417.19" x2="404.37" y2="419.99" stroke="#e6c040" stroke-width="1.0"/>
<line x1="403.17" y1="418.59" x2="405.57" y2="418.59" stroke="#e6c040" stroke-width="1.2"/>
<line x1="409.22" y1="417.22" x2="409.22" y2="420.02" stroke="#e6c040" stroke-width="1.0"/>
<line x1="408.02" y1="418.62" x2="410.42" y2="418.62" stroke="#e6c040" stroke-width="1.2"/>
<line x1="414.07" y1="417.25" x2="414.07" y2="420.05" stroke="#e6c040" stroke-width="1.0"/>
<line x1="412.87" y1="418.65" x2="415.27" y2="418.65" stroke="#e6c040" stroke-width="1.2"/>
<line x1="418.92" y1="417.28" x2="418.92" y2="420.08" stroke="#e6c040" stroke-width="1.0"/>
<line x1="417.72" y1="418.68" x2="420.12" y2="418.68" stroke="#e6c040" stroke-width="1.2"/>
<line x1="423.77" y1="417.31" x2="423.77" y2="420.11" stroke="#e6c040" stroke-width="1.0"/>
<line x1="422.57" y1="418.71" x2="424.97" y2="418.71" stroke="#e6c040" stroke-width="1.2"/>
<line x1="428.62" y1="417.34" x2="428.62" y2="420.14" stroke="#e6c040" stroke-width="1.0"/>
<line x1="427.42" y1="418.74" x2="429.82" y2="418.74" stroke="#e6c040" stroke-width="1.2"/>
<line x1="433.47" y1="417.37" x2="433.47" y2="420.17" stroke="#e6c040" stroke-width="1.0"/>
<line x1="432.27" y1="418.77" x2="434.67" y2="418.77" stroke="#e6c040" stroke-width="1.2"/>
<line x1="438.32" y1="417.40" x2="438.32" y2="420.20" stroke="#e6c040" stroke-width="1.0"/>
<line x1="437.12" y1="418.80" x2="439.52" y2="418.80" stroke="#e6c040" stroke-width="1.2"/>
<line x1="443.17" y1="417.43" x2="443.17" y2="420.23" stroke="#e6c040" stroke-width="1.0"/>
<line x1="441.97" y1="418.83" x2="444.37" y2="418.83" stroke="#e6c040" stroke-width="1.2"/>
<line x1="448.02" y1="417.46" x2="448.02" y2="420.26" stroke="#e6c040" stroke-width="1.0"/>
<line x1="446.82" y1="418.86" x2="449.22" y2="418.86" stroke="#e6c040" stroke-width="1.2"/>
<line x1="452.88" y1="417.49" x2="452.88" y2="420.29" stroke="#e6c040" stroke-width="1.0"/>
<line x1="451.68" y1="418.89" x2="454.08" y2="418.89" stroke="#e6c040" stroke-width="1.2"/>
<line x1="457.73" y1="417.53" x2="457.73" y2="420.33" stroke="#e6c040" stroke-width="1.0"/>
<line x1="456.53" y1="418.93" x2="458.93" y2="418.93" stroke="#e6c040" stroke-width="1.2"/>
<line x1="462.58" y1="417.56" x2="462.58" y2="420.36" stroke="#e6c040" stroke-width="1.0"/>
<line x1="461.38" y1="418.96" x2="463.78" y2="418.96" stroke="#e6c040" stroke-width="1.2"/>
<line x1="467.43" y1="417.59" x2="467.43" y2="420.39" stroke="#e6c040" stroke-width="1.0"/>
<line x1="466.23" y1="418.99" x2="468.63" y2="418.99" stroke="#e6c040" stroke-width="1.2"/>
<line x1="472.28" y1="417.62" x2="472.28" y2="420.42" stroke="#e6c040" stroke-width="1.0"/>
<line x1="471.08" y1="419.02" x2="473.48" y2="419.02" stroke="#e6c040" stroke-width="1.2"/>
<line x1="477.13" y1="417.65" x2="477.13" y2="420.45" stroke="#e6c040" stroke-width="1.0"/>
<line x1="475.93" y1="419.05" x2="478.33" y2="419.05" stroke="#e6c040" stroke-width="1.2"/>
<line x1="481.98" y1="417.68" x2="481.98" y2="420.48" stroke="#e6c040" stroke-width="1.0"/>
<line x1="480.78" y1="419.08" x2="483.18" y2="419.08" stroke="#e6c040" stroke-width="1.2"/>
<line x1="486.83" y1="417.71" x2="486.83" y2="420.51" stroke="#e6c040" stroke-width="1.0"/>
<line x1="485.63" y1="419.11" x2="488.03" y2="419.11" stroke="#e6c040" stroke-width="1.2"/>
<line x1="491.68" y1="417.74" x2="491.68" y2="420.54" stroke="#e6c040" stroke-width="1.0"/>
<line x1="490.48" y1="419.14" x2="492.88" y2="419.14" stroke="#e6c040" stroke-width="1.2"/>
<line x1="496.53" y1="417.78" x2="496.53" y2="420.58" stroke="#e6c040" stroke-width="1.0"/>
<line x1="495.33" y1="419.18" x2="497.73" y2="419.18" stroke="#e6c040" stroke-width="1.2"/>
<line x1="501.39" y1="417.81" x2="501.39" y2="420.61" stroke="#e6c040" stroke-width="1.0"/>
<line x1="500.19" y1="419.21" x2="502.59" y2="419.21" stroke="#e6c040" stroke-width="1.2"/>
<line x1="506.24" y1="417.84" x2="506.24" y2="420.64" stroke="#e6c040" stroke-width="1.0"/>
<line x1="505.04" y1="419.24" x2="507.44" y2="419.24" stroke="#e6c040" stroke-width="1.2"/>
<text x="389.20" y="444.73" font-size="6.2" stroke="#111111" stroke-width="0.06" textLength="106.00" lengthAdjust="spacingAndGlyphs">AA+AG vs. GG: unadjusted, <tspan font-style="italic">P</tspan> = .006;</text>
<text x="389.20" y="453.53" font-size="6.2" stroke="#111111" stroke-width="0.06" textLength="107.00" lengthAdjust="spacingAndGlyphs">AA+AG vs. GG: risk-adjusted <tspan font-style="italic">P</tspan> = .009</text>
<text x="306.25" y="487.83" font-size="6.2" stroke="#111111" stroke-width="0.06">Number at risk</text>
<line x1="306.30" y1="489.30" x2="306.30" y2="522.00" stroke="#2a2a2a" stroke-width="1.4"/>
<line x1="305.60" y1="521.30" x2="507.50" y2="521.30" stroke="#2a2a2a" stroke-width="1.4"/>
<line x1="303.70" y1="495.80" x2="306.30" y2="495.80" stroke="#2a2a2a" stroke-width="1.2"/>
<text x="300.00" y="498.03" font-size="6.2" text-anchor="end" fill="#2b4d82" stroke="#2b4d82" stroke-width="0.06">AA</text>
<text x="315.20" y="498.03" font-size="6.2" text-anchor="middle" fill="#2b4d82" stroke="#2b4d82" stroke-width="0.06">740</text>
<text x="361.40" y="498.03" font-size="6.2" text-anchor="middle" fill="#2b4d82" stroke="#2b4d82" stroke-width="0.06">506</text>
<text x="407.60" y="498.03" font-size="6.2" text-anchor="middle" fill="#2b4d82" stroke="#2b4d82" stroke-width="0.06">402</text>
<text x="453.80" y="498.03" font-size="6.2" text-anchor="middle" fill="#2b4d82" stroke="#2b4d82" stroke-width="0.06">160</text>
<text x="500.00" y="498.03" font-size="6.2" text-anchor="middle" fill="#2b4d82" stroke="#2b4d82" stroke-width="0.06">9</text>
<line x1="303.70" y1="506.30" x2="306.30" y2="506.30" stroke="#2a2a2a" stroke-width="1.2"/>
<text x="300.00" y="508.53" font-size="6.2" text-anchor="end" fill="#efc54e" stroke="#efc54e" stroke-width="0.06">AG</text>
<text x="315.20" y="508.53" font-size="6.2" text-anchor="middle" fill="#efc54e" stroke="#efc54e" stroke-width="0.06">106</text>
<text x="361.40" y="508.53" font-size="6.2" text-anchor="middle" fill="#efc54e" stroke="#efc54e" stroke-width="0.06">80</text>
<text x="407.60" y="508.53" font-size="6.2" text-anchor="middle" fill="#efc54e" stroke="#efc54e" stroke-width="0.06">50</text>
<text x="453.80" y="508.53" font-size="6.2" text-anchor="middle" fill="#efc54e" stroke="#efc54e" stroke-width="0.06">17</text>
<text x="500.00" y="508.53" font-size="6.2" text-anchor="middle" fill="#efc54e" stroke="#efc54e" stroke-width="0.06">2</text>
<line x1="303.70" y1="516.30" x2="306.30" y2="516.30" stroke="#2a2a2a" stroke-width="1.2"/>
<text x="300.00" y="518.53" font-size="6.2" text-anchor="end" stroke="#111111" stroke-width="0.06">GG</text>
<text x="315.20" y="518.53" font-size="6.2" text-anchor="middle" stroke="#111111" stroke-width="0.06">3</text>
<text x="361.40" y="518.53" font-size="6.2" text-anchor="middle" stroke="#111111" stroke-width="0.06">1</text>
<text x="407.60" y="518.53" font-size="6.2" text-anchor="middle" stroke="#111111" stroke-width="0.06">0</text>
<text x="453.80" y="518.53" font-size="6.2" text-anchor="middle" stroke="#111111" stroke-width="0.06">0</text>
<text x="500.00" y="518.53" font-size="6.2" text-anchor="middle" stroke="#111111" stroke-width="0.06">0</text>
<line x1="315.20" y1="521.30" x2="315.20" y2="524.40" stroke="#2a2a2a" stroke-width="1.2"/>
<text x="315.20" y="533.03" font-size="6.2" text-anchor="middle" stroke="#111111" stroke-width="0.06">0</text>
<line x1="361.40" y1="521.30" x2="361.40" y2="524.40" stroke="#2a2a2a" stroke-width="1.2"/>
<text x="361.40" y="533.03" font-size="6.2" text-anchor="middle" stroke="#111111" stroke-width="0.06">2</text>
<line x1="407.60" y1="521.30" x2="407.60" y2="524.40" stroke="#2a2a2a" stroke-width="1.2"/>
<text x="407.60" y="533.03" font-size="6.2" text-anchor="middle" stroke="#111111" stroke-width="0.06">4</text>
<line x1="453.80" y1="521.30" x2="453.80" y2="524.40" stroke="#2a2a2a" stroke-width="1.2"/>
<text x="453.80" y="533.03" font-size="6.2" text-anchor="middle" stroke="#111111" stroke-width="0.06">6</text>
<line x1="500.00" y1="521.30" x2="500.00" y2="524.40" stroke="#2a2a2a" stroke-width="1.2"/>
<text x="500.00" y="533.03" font-size="6.2" text-anchor="middle" stroke="#111111" stroke-width="0.06">8</text>
<text x="389.80" y="544.52" font-size="7.0" fill="#3a3a3a" stroke="#3a3a3a" stroke-width="0.06" font-weight="bold" textLength="39.6" lengthAdjust="spacingAndGlyphs">Follow-up (years)</text>
<text x="152.80" y="562.00" font-size="12.2" fill="#111" font-weight="bold" textLength="8.25" lengthAdjust="spacingAndGlyphs">G</text>
<text x="167.50" y="568.00" font-size="9.5" fill="#1a1a1a">MRD1&#160;&#160;by rs7265241 SNP in AML08 Cohort</text>
<text x="197.60" y="579.30" font-size="6.4" stroke="#111111" stroke-width="0.06">unadjusted <tspan font-style="italic">P</tspan> = .005; risk-adjusted <tspan font-style="italic">P</tspan> = .0004</text>
<rect x="192.0" y="584.0" width="38.00" height="43.99" fill="#acd597"/>
<rect x="192.0" y="627.99" width="38.00" height="24.31" fill="#e58b7d"/>
<rect x="241.75" y="584.0" width="37.75" height="21.58" fill="#acd597"/>
<rect x="241.75" y="605.58" width="37.75" height="46.72" fill="#e58b7d"/>
<rect x="290.85" y="584.00" width="37.65" height="68.30" fill="#e58b7d"/>
<rect x="186.75" y="583.25" width="147.55" height="69.75" fill="none" stroke="#111" stroke-width="1.1"/>
<text x="211.00" y="608.03" font-size="6.2" text-anchor="middle" fill="#333" stroke="#333" stroke-width="0.06">64.4%</text>
<text x="211.00" y="643.03" font-size="6.2" text-anchor="middle" fill="#333" stroke="#333" stroke-width="0.06">35.6%</text>
<text x="260.60" y="596.03" font-size="6.2" text-anchor="middle" fill="#333" stroke="#333" stroke-width="0.06">31.6%</text>
<text x="260.60" y="631.03" font-size="6.2" text-anchor="middle" fill="#333" stroke="#333" stroke-width="0.06">68.4%</text>
<text x="309.70" y="620.43" font-size="6.2" text-anchor="middle" fill="#333" stroke="#333" stroke-width="0.06">100.0%</text>
<text x="211.00" y="662.34" font-size="6.5" text-anchor="middle" stroke="#111111" stroke-width="0.06">AA (n = 194)</text>
<text x="260.60" y="662.34" font-size="6.5" text-anchor="middle" stroke="#111111" stroke-width="0.06">AG (n = 19)</text>
<text x="309.70" y="662.34" font-size="6.5" text-anchor="middle" stroke="#111111" stroke-width="0.06">GG (n = 1)</text>
<text x="250.10" y="672.02" font-size="7.0" fill="#3a3a3a" stroke="#3a3a3a" stroke-width="0.06" font-weight="bold" textLength="21" lengthAdjust="spacingAndGlyphs">Genotype</text>
<text transform="translate(180.96,618.80) rotate(-90)" font-size="6.6" text-anchor="middle" textLength="24.0" lengthAdjust="spacingAndGlyphs" fill="#222" stroke="#222" stroke-width="0.28">Percentage</text>
<rect x="337.3" y="611.0" width="3.4" height="3.4" fill="#acd597"/>
<rect x="337.3" y="622.0" width="3.4" height="3.4" fill="#e58b7d"/>
<text x="342.80" y="614.93" font-size="6.2" stroke="#111111" stroke-width="0.06">MRD &#8211;</text>
<text x="342.80" y="625.93" font-size="6.2" stroke="#111111" stroke-width="0.06">MRD +</text>
</svg></div></body></html>
